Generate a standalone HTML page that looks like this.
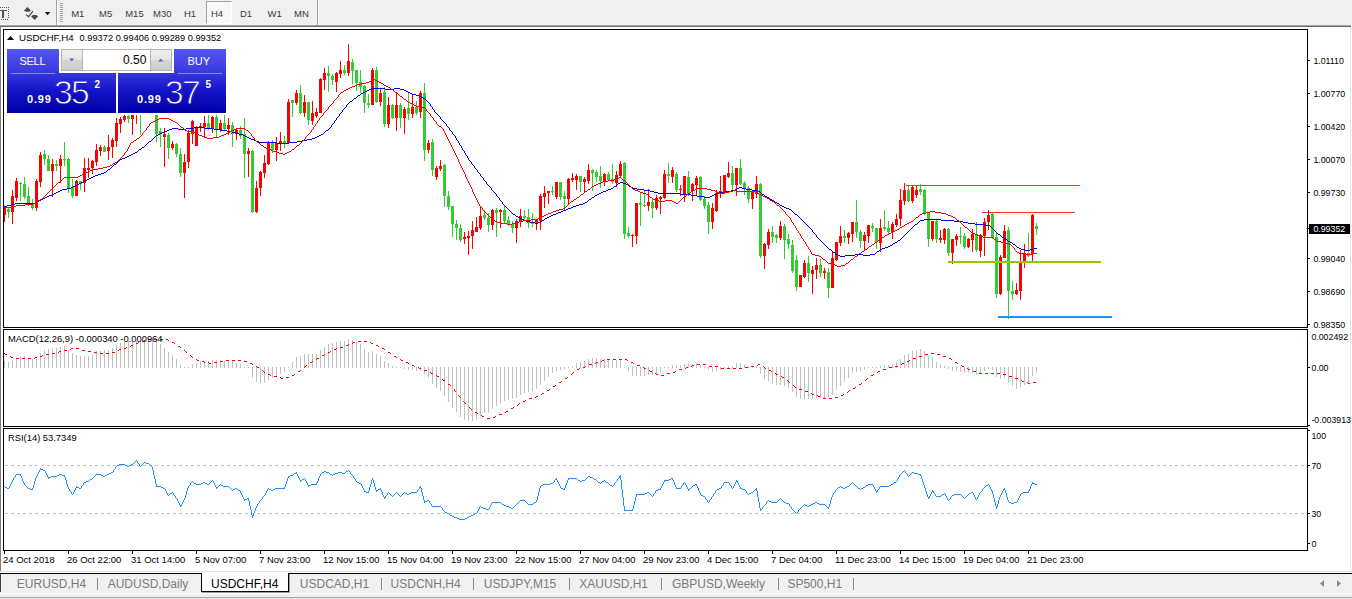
<!DOCTYPE html>
<html lang="en"><head><meta charset="utf-8"><title>USDCHF,H4</title>
<style>
html,body{margin:0;padding:0}
body{width:1352px;height:599px;position:relative;overflow:hidden;background:#fff;font-family:"Liberation Sans",sans-serif;}
.abs{position:absolute}
#toolbar{left:0;top:0;width:1352px;height:25px;background:#f0f0f0}
#tbline1{left:0;top:25px;width:1351px;height:1px;background:#a8a8a8}
#tbline2{left:0;top:26px;width:1351px;height:1px;background:#696969}
.tf{position:absolute;top:8px;font-size:9.5px;line-height:11px;color:#3a3a3a;white-space:nowrap}
#h4btn{left:206px;top:1px;width:24px;height:21px;background:#f8f8f8;border-left:1px solid #a0a0a0;border-top:1px solid #a0a0a0;border-right:1px solid #fff;border-bottom:1px solid #fff;box-sizing:content-box}
.sep{position:absolute;top:0;width:1px;height:25px;background:#a0a0a0}
.sepw{position:absolute;top:0;width:1px;height:25px;background:#fff}
#leftedge{left:0;top:27px;width:1px;height:544px;background:#808080}
#rightedge{left:1350px;top:27px;width:1px;height:544px;background:#e3e3e3}
#chart{left:0;top:0}
/* trade panel */
.blue{background:linear-gradient(#5555f2 0%, #3a3ae0 35%, #1414c8 65%, #0000a8 100%);background-size:100% 64px;background-repeat:no-repeat}
#selltab{left:7px;top:49px;width:52px;height:24px;background-position:0 0}
#sellbox{left:7px;top:73px;width:109px;height:40px;background-position:0 -24px}
#buytab{left:174px;top:49px;width:52px;height:24px;background-position:0 0}
#buybox{left:118px;top:73px;width:108px;height:40px;background-position:0 -24px}
#spinbg{left:59px;top:49px;width:115px;height:24px;background:#fff}
#spin{left:61px;top:49px;width:111px;height:22px;border:1px solid #b4b4b4;background:#fff;box-sizing:border-box}
.sbtn{position:absolute;top:50px;width:19px;height:20px;background:linear-gradient(#f0f0f0 0%,#e4e4e4 48%,#d6d6d6 52%,#cdcdcd 100%);border:0}
.pt{position:absolute;color:#fff;white-space:nowrap}
/* tabs */
#tabline0{left:0;top:571px;width:1352px;height:1px;background:#e3e3e3}
#tabline{left:0;top:573px;width:1352px;height:1px;background:#000}
#tabbar{left:0;top:574px;width:1352px;height:19px;background:#f0f0f0}
#tabl{left:0;top:574px;width:1px;height:18px;background:#404040}
#botline{left:0;top:594px;width:1352px;height:3px;background:#f0f0f0}
#botline2{left:0;top:597px;width:1352px;height:1px;background:#a6a6a6}
#botline3{left:0;top:598px;width:1352px;height:1px;background:#e6e6e6}
.tab{position:absolute;top:577px;font-size:12px;line-height:14px;color:#7b7b7b;white-space:nowrap}
.tsep{position:absolute;top:578px;width:1px;height:12px;background:#8a8a8a}
#acttab{left:201px;top:573px;width:86px;height:18px;background:#fff;border:1px solid #000;border-top:0;box-shadow:1px 1px 0 #9a9a9a}
</style></head><body>
<div class="abs" id="toolbar">
  <svg class="abs" style="left:0;top:0" width="70" height="25" viewBox="0 0 70 25">
    <g shape-rendering="crispEdges">
    <path d="M0 10h7v1h-3v7h-2v-7h-2z" fill="#555"/>
    <path d="M0 7h1v1h-1zM2 7h1v1h-1zM4 7h1v1h-1zM6 7h1v1h-1zM8 7h1v1h-1zM8 9h1v1h-1zM8 11h1v1h-1zM8 13h1v1h-1zM8 15h1v1h-1zM8 17h1v1h-1zM1 19h1v1h-1zM3 19h1v1h-1zM5 19h1v1h-1zM7 19h1v1h-1z" fill="#555"/>
    </g>
    <path d="M24 10.4L27.4 6.9L30.9 10.4L29.3 11.8H25.7z" fill="#4a4a4a"/>
    <path d="M31.1 16.4L34.6 20L38.1 16.4L36.3 15.1H32.9z" fill="#4a4a4a"/>
    <path d="M26.1 14.6L28.6 16.7L32.9 11.2" stroke="#444" stroke-width="1.2" fill="none"/>
    <path d="M44.9 11.9h5.3l-2.650 3.4z" fill="#111"/>
    <g shape-rendering="crispEdges" fill="#a0a0a0">
      <rect x="60" y="3" width="3" height="1"/><rect x="60" y="5" width="3" height="1"/><rect x="60" y="7" width="3" height="1"/><rect x="60" y="9" width="3" height="1"/><rect x="60" y="11" width="3" height="1"/><rect x="60" y="13" width="3" height="1"/><rect x="60" y="15" width="3" height="1"/><rect x="60" y="17" width="3" height="1"/><rect x="60" y="19" width="3" height="1"/><rect x="60" y="21" width="3" height="1"/>
    </g>
  </svg>
  <div class="sep" style="left:56px"></div><div class="sepw" style="left:57px"></div>
  <div class="abs" id="h4btn"></div>
  <span class="tf" style="left:71.2px">M1</span>
  <span class="tf" style="left:99.1px">M5</span>
  <span class="tf" style="left:125.2px">M15</span>
  <span class="tf" style="left:153px">M30</span>
  <span class="tf" style="left:184px">H1</span>
  <span class="tf" style="left:211px">H4</span>
  <span class="tf" style="left:239.9px">D1</span>
  <span class="tf" style="left:267.6px">W1</span>
  <span class="tf" style="left:294px">MN</span>
  <div class="sep" style="left:317px"></div><div class="sepw" style="left:318px"></div>
</div>
<div class="abs" id="tbline1"></div><div class="abs" id="tbline2"></div>
<div class="abs" id="leftedge"></div><div class="abs" id="rightedge"></div>
<svg class="abs" id="chart" width="1352" height="599" viewBox="0 0 1352 599">
<defs><clipPath id="cm"><rect x="4" y="30" width="1303" height="297"/></clipPath><clipPath id="cd"><rect x="4" y="330" width="1303" height="96"/></clipPath><clipPath id="cr"><rect x="4" y="429" width="1303" height="121"/></clipPath></defs>
<g clip-path="url(#cm)" shape-rendering="crispEdges">
<path fill="#ff0000" d="M4 207h1v15h-1zM3 208h3v7h-3zM12 190h1v34h-1zM11 196h3v16h-3zM16 178h1v23h-1zM15 181h3v17h-3zM36 179h1v32h-1zM35 181h3v27h-3zM40 152h1v35h-1zM39 155h3v27h-3zM52 159h1v38h-1zM51 164h3v7h-3zM60 155h1v28h-1zM59 159h3v7h-3zM76 180h1v16h-1zM75 181h3v15h-3zM84 158h1v34h-1zM83 168h3v15h-3zM88 158h1v20h-1zM87 168h3v2h-3zM92 160h1v14h-1zM91 161h3v7h-3zM96 144h1v22h-1zM95 150h3v12h-3zM100 145h1v11h-1zM99 147h3v4h-3zM108 135h1v25h-1zM107 147h3v4h-3zM112 138h1v20h-1zM111 140h3v7h-3zM116 118h1v29h-1zM115 123h3v18h-3zM120 117h1v16h-1zM119 119h3v5h-3zM124 112h1v10h-1zM123 116h3v4h-3zM132 110h1v25h-1zM131 113h3v6h-3zM136 106h1v18h-1zM135 107h3v4h-3zM164 128h1v39h-1zM163 134h3v3h-3zM172 141h1v9h-1zM171 144h3v4h-3zM184 154h1v44h-1zM183 162h3v11h-3zM188 130h1v38h-1zM187 133h3v29h-3zM192 120h1v24h-1zM191 121h3v13h-3zM196 126h1v20h-1zM195 127h3v19h-3zM200 123h1v9h-1zM199 126h3v2h-3zM204 116h1v21h-1zM203 123h3v4h-3zM212 116h1v17h-1zM211 117h3v11h-3zM220 120h1v12h-1zM219 123h3v7h-3zM228 118h1v17h-1zM227 125h3v4h-3zM236 129h1v11h-1zM235 130h3v4h-3zM248 148h1v29h-1zM247 151h3v3h-3zM256 181h1v32h-1zM255 188h3v24h-3zM260 171h1v25h-1zM259 172h3v16h-3zM264 155h1v23h-1zM263 163h3v10h-3zM268 141h1v24h-1zM267 142h3v22h-3zM276 137h1v24h-1zM275 143h3v7h-3zM280 132h1v19h-1zM279 141h3v2h-3zM288 99h1v45h-1zM287 102h3v41h-3zM296 90h1v15h-1zM295 93h3v10h-3zM304 95h1v22h-1zM303 102h3v11h-3zM312 101h1v24h-1zM311 113h3v8h-3zM316 108h1v10h-1zM315 112h3v4h-3zM320 78h1v35h-1zM319 79h3v34h-3zM324 68h1v22h-1zM323 73h3v7h-3zM336 72h1v20h-1zM335 73h3v9h-3zM340 61h1v17h-1zM339 70h3v4h-3zM348 44h1v32h-1zM347 61h3v12h-3zM372 68h1v37h-1zM371 70h3v35h-3zM380 88h1v18h-1zM379 93h3v9h-3zM388 97h1v31h-1zM387 105h3v19h-3zM396 93h1v38h-1zM395 105h3v13h-3zM404 107h1v27h-1zM403 109h3v9h-3zM412 95h1v23h-1zM411 107h3v7h-3zM420 91h1v27h-1zM419 93h3v19h-3zM428 140h1v13h-1zM427 143h3v7h-3zM436 166h1v14h-1zM435 168h3v9h-3zM440 160h1v11h-1zM439 166h3v3h-3zM464 232h1v12h-1zM463 237h3v2h-3zM468 231h1v24h-1zM467 236h3v2h-3zM472 221h1v28h-1zM471 230h3v6h-3zM476 217h1v15h-1zM475 227h3v5h-3zM480 206h1v24h-1zM479 216h3v12h-3zM492 209h1v21h-1zM491 210h3v15h-3zM500 209h1v19h-1zM499 210h3v2h-3zM516 219h1v24h-1zM515 221h3v7h-3zM520 209h1v18h-1zM519 216h3v5h-3zM536 219h1v11h-1zM535 220h3v4h-3zM540 194h1v36h-1zM539 196h3v25h-3zM544 186h1v22h-1zM543 193h3v4h-3zM548 191h1v13h-1zM547 191h3v2h-3zM556 182h1v17h-1zM555 182h3v15h-3zM568 178h1v26h-1zM567 179h3v20h-3zM572 173h1v9h-1zM571 178h3v2h-3zM576 174h1v16h-1zM575 176h3v4h-3zM584 177h1v16h-1zM583 179h3v3h-3zM588 164h1v20h-1zM587 170h3v11h-3zM604 173h1v13h-1zM603 174h3v8h-3zM616 171h1v16h-1zM615 175h3v8h-3zM620 161h1v16h-1zM619 164h3v12h-3zM632 234h1v13h-1zM631 235h3v1h-3zM636 203h1v41h-1zM635 203h3v33h-3zM648 189h1v22h-1zM647 202h3v4h-3zM656 195h1v15h-1zM655 198h3v10h-3zM660 196h1v18h-1zM659 197h3v2h-3zM664 170h1v29h-1zM663 174h3v24h-3zM672 167h1v16h-1zM671 170h3v7h-3zM680 185h1v11h-1zM679 189h3v1h-3zM684 176h1v26h-1zM683 176h3v18h-3zM692 183h1v18h-1zM691 184h3v7h-3zM696 176h1v20h-1zM695 178h3v7h-3zM712 203h1v26h-1zM711 208h3v14h-3zM716 190h1v22h-1zM715 193h3v18h-3zM720 176h1v22h-1zM719 191h3v3h-3zM724 175h1v19h-1zM723 175h3v18h-3zM728 162h1v16h-1zM727 173h3v4h-3zM736 168h1v28h-1zM735 168h3v17h-3zM752 190h1v19h-1zM751 192h3v7h-3zM756 176h1v22h-1zM755 184h3v10h-3zM764 243h1v26h-1zM763 244h3v12h-3zM768 229h1v20h-1zM767 232h3v13h-3zM780 221h1v19h-1zM779 226h3v12h-3zM800 275h1v12h-1zM799 275h3v12h-3zM804 260h1v18h-1zM803 263h3v14h-3zM812 266h1v28h-1zM811 270h3v4h-3zM816 258h1v21h-1zM815 265h3v5h-3zM824 268h1v11h-1zM823 271h3v2h-3zM832 252h1v36h-1zM831 258h3v30h-3zM836 242h1v19h-1zM835 242h3v18h-3zM840 226h1v20h-1zM839 236h3v7h-3zM848 232h1v12h-1zM847 233h3v5h-3zM852 222h1v20h-1zM851 222h3v12h-3zM864 232h1v18h-1zM863 235h3v6h-3zM868 225h1v18h-1zM867 225h3v11h-3zM880 219h1v33h-1zM879 228h3v15h-3zM892 222h1v17h-1zM891 224h3v8h-3zM896 214h1v13h-1zM895 219h3v6h-3zM900 189h1v37h-1zM899 200h3v19h-3zM904 183h1v22h-1zM903 190h3v11h-3zM912 186h1v17h-1zM911 187h3v14h-3zM916 186h1v12h-1zM915 190h3v5h-3zM932 221h1v20h-1zM931 221h3v18h-3zM940 230h1v13h-1zM939 238h3v2h-3zM944 228h1v16h-1zM943 229h3v11h-3zM952 239h1v25h-1zM951 239h3v14h-3zM956 234h1v12h-1zM955 236h3v4h-3zM968 238h1v10h-1zM967 239h3v8h-3zM972 229h1v23h-1zM971 234h3v6h-3zM980 234h1v23h-1zM979 235h3v16h-3zM984 218h1v38h-1zM983 222h3v14h-3zM988 210h1v20h-1zM987 215h3v7h-3zM1000 255h1v40h-1zM999 257h3v37h-3zM1004 225h1v33h-1zM1003 231h3v27h-3zM1016 283h1v12h-1zM1015 290h3v4h-3zM1020 250h1v50h-1zM1019 263h3v28h-3zM1024 244h1v24h-1zM1023 253h3v10h-3zM1032 214h1v47h-1zM1031 215h3v39h-3z"/>
<path fill="#32cd32" d="M8 208h1v10h-1zM7 209h3v3h-3zM20 182h1v19h-1zM19 183h3v1h-3zM24 177h1v22h-1zM23 184h3v13h-3zM28 187h1v19h-1zM27 196h3v8h-3zM32 199h1v11h-1zM31 204h3v4h-3zM44 150h1v15h-1zM43 154h3v5h-3zM48 155h1v16h-1zM47 159h3v12h-3zM56 160h1v11h-1zM55 164h3v2h-3zM64 142h1v24h-1zM63 159h3v1h-3zM68 158h1v35h-1zM67 159h3v29h-3zM72 179h1v19h-1zM71 187h3v9h-3zM80 181h1v9h-1zM79 181h3v3h-3zM104 145h1v7h-1zM103 147h3v5h-3zM128 112h1v11h-1zM127 116h3v3h-3zM140 108h1v27h-1zM139 110h3v4h-3zM156 105h1v37h-1zM155 108h3v26h-3zM160 128h1v19h-1zM159 131h3v3h-3zM168 133h1v26h-1zM167 135h3v13h-3zM176 143h1v14h-1zM175 144h3v10h-3zM180 148h1v29h-1zM179 154h3v19h-3zM208 112h1v18h-1zM207 123h3v5h-3zM216 112h1v26h-1zM215 117h3v13h-3zM224 112h1v18h-1zM223 123h3v6h-3zM232 122h1v25h-1zM231 125h3v9h-3zM240 126h1v13h-1zM239 130h3v6h-3zM244 118h1v60h-1zM243 134h3v20h-3zM252 150h1v63h-1zM251 151h3v61h-3zM272 140h1v13h-1zM271 142h3v8h-3zM284 136h1v12h-1zM283 141h3v2h-3zM292 100h1v17h-1zM291 100h3v3h-3zM300 85h1v29h-1zM299 93h3v20h-3zM308 102h1v23h-1zM307 102h3v18h-3zM328 66h1v26h-1zM327 73h3v3h-3zM332 74h1v11h-1zM331 76h3v4h-3zM344 65h1v10h-1zM343 70h3v3h-3zM352 59h1v25h-1zM351 62h3v9h-3zM356 70h1v21h-1zM355 70h3v13h-3zM360 70h1v23h-1zM359 82h3v5h-3zM364 85h1v28h-1zM363 86h3v17h-3zM368 94h1v14h-1zM367 103h3v2h-3zM376 67h1v36h-1zM375 70h3v32h-3zM384 87h1v40h-1zM383 92h3v32h-3zM392 104h1v15h-1zM391 105h3v13h-3zM400 103h1v25h-1zM399 105h3v13h-3zM408 92h1v28h-1zM407 108h3v6h-3zM416 101h1v14h-1zM415 107h3v6h-3zM424 83h1v78h-1zM423 93h3v57h-3zM432 139h1v37h-1zM431 142h3v28h-3zM444 164h1v43h-1zM443 165h3v31h-3zM448 191h1v19h-1zM447 196h3v11h-3zM452 206h1v31h-1zM451 206h3v18h-3zM456 220h1v20h-1zM455 224h3v4h-3zM460 224h1v18h-1zM459 228h3v12h-3zM484 210h1v10h-1zM483 215h3v3h-3zM488 213h1v19h-1zM487 218h3v7h-3zM496 208h1v29h-1zM495 210h3v3h-3zM504 206h1v18h-1zM503 210h3v11h-3zM508 216h1v10h-1zM507 220h3v5h-3zM512 221h1v12h-1zM511 224h3v4h-3zM524 210h1v11h-1zM523 216h3v2h-3zM528 209h1v19h-1zM527 217h3v6h-3zM532 213h1v14h-1zM531 223h3v1h-3zM552 186h1v9h-1zM551 191h3v1h-3zM560 182h1v18h-1zM559 182h3v15h-3zM564 191h1v19h-1zM563 196h3v3h-3zM580 176h1v16h-1zM579 176h3v6h-3zM592 169h1v22h-1zM591 170h3v3h-3zM596 170h1v12h-1zM595 172h3v5h-3zM600 166h1v22h-1zM599 176h3v5h-3zM608 172h1v9h-1zM607 174h3v6h-3zM612 164h1v20h-1zM611 179h3v3h-3zM624 162h1v77h-1zM623 163h3v71h-3zM628 227h1v11h-1zM627 233h3v3h-3zM640 193h1v33h-1zM639 203h3v2h-3zM644 191h1v16h-1zM643 205h3v1h-3zM652 199h1v19h-1zM651 202h3v6h-3zM668 163h1v20h-1zM667 174h3v2h-3zM676 172h1v20h-1zM675 174h3v16h-3zM688 171h1v25h-1zM687 177h3v17h-3zM700 176h1v25h-1zM699 177h3v23h-3zM704 196h1v13h-1zM703 199h3v7h-3zM708 202h1v32h-1zM707 205h3v17h-3zM732 166h1v24h-1zM731 173h3v12h-3zM740 159h1v26h-1zM739 168h3v16h-3zM744 181h1v14h-1zM743 183h3v5h-3zM748 186h1v17h-1zM747 188h3v11h-3zM760 183h1v75h-1zM759 184h3v72h-3zM772 226h1v17h-1zM771 232h3v5h-3zM776 234h1v9h-1zM775 235h3v3h-3zM784 224h1v35h-1zM783 226h3v14h-3zM788 234h1v15h-1zM787 239h3v5h-3zM792 240h1v33h-1zM791 245h3v26h-3zM796 255h1v36h-1zM795 260h3v27h-3zM808 256h1v26h-1zM807 263h3v10h-3zM820 259h1v18h-1zM819 265h3v8h-3zM828 268h1v30h-1zM827 272h3v16h-3zM844 230h1v13h-1zM843 236h3v2h-3zM856 200h1v38h-1zM855 222h3v10h-3zM860 230h1v18h-1zM859 232h3v9h-3zM872 223h1v9h-1zM871 226h3v2h-3zM876 228h1v21h-1zM875 228h3v14h-3zM884 210h1v21h-1zM883 227h3v2h-3zM888 221h1v14h-1zM887 228h3v4h-3zM908 186h1v16h-1zM907 190h3v11h-3zM920 184h1v11h-1zM919 189h3v3h-3zM924 189h1v26h-1zM923 190h3v23h-3zM928 212h1v35h-1zM927 212h3v27h-3zM936 219h1v24h-1zM935 221h3v18h-3zM948 228h1v28h-1zM947 229h3v24h-3zM960 227h1v17h-1zM959 236h3v1h-3zM964 233h1v16h-1zM963 236h3v11h-3zM976 222h1v30h-1zM975 234h3v16h-3zM992 213h1v26h-1zM991 214h3v24h-3zM996 233h1v65h-1zM995 237h3v57h-3zM1008 227h1v92h-1zM1007 230h3v61h-3zM1012 281h1v19h-1zM1011 291h3v3h-3zM1028 233h1v24h-1zM1027 253h3v3h-3zM1036 223h1v12h-1zM1035 226h3v3h-3z"/>
</g>
<g shape-rendering="crispEdges">
<rect x="906" y="185" width="174" height="1" fill="#ff3333"/>
<rect x="982" y="212" width="93" height="1" fill="#ff3333"/>
<rect x="948" y="261" width="153" height="2" fill="#92c800"/>
<rect x="998" y="316" width="114" height="2" fill="#1e90ff"/>
</g>
<g clip-path="url(#cm)" shape-rendering="crispEdges">
<path fill="#0000e6" d="M4 206h3v1h-3zM7 205h4v1h-4zM11 204h4v1h-4zM15 203h20v1h-20zM35 202h2v1h-2zM37 201h2v1h-2zM39 200h2v1h-2zM41 199h2v1h-2zM43 198h2v1h-2zM45 197h2v1h-2zM47 196h2v1h-2zM49 195h3v1h-3zM52 194h2v1h-2zM54 193h2v1h-2zM56 192h2v1h-2zM58 191h2v1h-2zM60 190h2v1h-2zM62 189h5v1h-5zM67 188h4v1h-4zM71 187h2v1h-2zM73 186h2v1h-2zM75 185h2v1h-2zM77 184h2v1h-2zM79 183h2v1h-2zM81 182h2v1h-2zM83 181h2v1h-2zM85 180h2v1h-2zM87 179h2v1h-2zM89 178h2v1h-2zM91 177h2v1h-2zM93 176h2v1h-2zM95 175h3v1h-3zM98 174h3v1h-3zM101 173h3v1h-3zM104 172h2v1h-2zM106 171h1v1h-1zM107 170h1v1h-1zM108 169h2v1h-2zM110 168h1v1h-1zM111 167h1v1h-1zM112 166h1v1h-1zM113 165h1v1h-1zM114 164h2v1h-2zM116 163h1v1h-1zM117 162h1v1h-1zM118 161h1v1h-1zM119 160h1v1h-1zM120 159h2v1h-2zM122 158h3v1h-3zM125 157h2v1h-2zM127 156h2v1h-2zM129 155h2v1h-2zM131 154h2v1h-2zM133 153h2v1h-2zM135 152h2v1h-2zM137 151h1v1h-1zM138 150h1v1h-1zM139 149h2v1h-2zM141 148h1v1h-1zM142 147h2v1h-2zM144 146h1v1h-1zM145 145h1v1h-1zM146 144h1v1h-1zM147 143h1v1h-1zM148 142h1v1h-1zM149 141h2v1h-2zM151 140h1v1h-1zM152 139h1v1h-1zM153 138h1v1h-1zM154 137h1v1h-1zM155 136h1v1h-1zM156 135h2v1h-2zM158 134h2v1h-2zM160 133h2v1h-2zM162 132h2v1h-2zM164 131h3v1h-3zM167 130h2v1h-2zM169 129h3v1h-3zM172 128h6v1h-6zM178 129h8v1h-8zM186 128h8v1h-8zM194 127h10v1h-10zM204 128h10v1h-10zM214 129h7v1h-7zM221 130h6v1h-6zM227 131h5v1h-5zM232 132h4v1h-4zM236 133h3v1h-3zM239 134h4v1h-4zM243 135h2v1h-2zM245 136h2v1h-2zM247 137h2v1h-2zM249 138h2v1h-2zM251 139h3v1h-3zM254 140h2v1h-2zM256 141h3v1h-3zM259 142h18v1h-18zM277 143h12v1h-12zM289 142h8v1h-8zM297 141h5v1h-5zM302 140h5v1h-5zM307 139h5v1h-5zM312 138h3v1h-3zM315 137h2v1h-2zM317 136h2v1h-2zM319 135h2v1h-2zM321 134h2v1h-2zM323 133h1v1h-1zM324 132h1v1h-1zM325 131h1v1h-1zM326 130h2v1h-2zM328 129h1v1h-1zM329 128h1v1h-1zM330 127h1v1h-1zM331 125h1v2h-1zM332 124h1v1h-1zM333 123h1v1h-1zM334 121h1v2h-1zM335 120h1v1h-1zM336 118h1v2h-1zM337 117h1v1h-1zM338 116h1v1h-1zM339 114h1v2h-1zM340 113h1v1h-1zM341 112h1v1h-1zM342 110h1v2h-1zM343 109h1v1h-1zM344 108h1v1h-1zM345 107h1v1h-1zM346 105h1v2h-1zM347 104h1v1h-1zM348 103h1v1h-1zM349 102h1v1h-1zM350 101h2v1h-2zM352 100h1v1h-1zM353 99h1v1h-1zM354 98h2v1h-2zM356 97h1v1h-1zM357 96h1v1h-1zM358 95h2v1h-2zM360 94h1v1h-1zM361 93h2v1h-2zM363 92h2v1h-2zM365 91h2v1h-2zM367 90h2v1h-2zM369 89h2v1h-2zM371 88h14v1h-14zM385 89h9v1h-9zM394 88h6v1h-6zM400 89h4v1h-4zM404 90h2v1h-2zM406 91h2v1h-2zM408 92h2v1h-2zM410 93h2v1h-2zM412 94h4v1h-4zM416 95h3v1h-3zM419 96h2v1h-2zM421 97h2v1h-2zM423 98h2v1h-2zM425 99h1v1h-1zM426 100h1v1h-1zM427 101h1v1h-1zM428 102h1v1h-1zM429 103h1v1h-1zM430 104h1v2h-1zM431 106h1v1h-1zM432 107h1v2h-1zM433 109h1v1h-1zM434 110h1v2h-1zM435 112h1v1h-1zM436 113h1v1h-1zM437 114h1v1h-1zM438 115h1v1h-1zM439 116h1v1h-1zM440 117h1v2h-1zM441 119h1v1h-1zM442 120h1v1h-1zM443 121h1v1h-1zM444 122h1v1h-1zM445 123h1v1h-1zM446 124h1v2h-1zM447 126h1v1h-1zM448 127h1v1h-1zM449 128h1v2h-1zM450 130h1v1h-1zM451 131h1v1h-1zM452 132h1v2h-1zM453 134h1v1h-1zM454 135h1v1h-1zM455 136h1v2h-1zM456 138h1v2h-1zM457 140h1v1h-1zM458 141h1v2h-1zM459 143h1v2h-1zM460 145h1v1h-1zM461 146h1v2h-1zM462 148h1v2h-1zM463 150h1v1h-1zM464 151h1v2h-1zM465 153h1v2h-1zM466 155h1v1h-1zM467 156h1v2h-1zM468 158h1v2h-1zM469 160h1v1h-1zM470 161h1v1h-1zM471 162h1v2h-1zM472 164h1v1h-1zM473 165h1v1h-1zM474 166h1v2h-1zM475 168h1v1h-1zM476 169h1v1h-1zM477 170h1v2h-1zM478 172h1v1h-1zM479 173h1v1h-1zM480 174h1v2h-1zM481 176h1v1h-1zM482 177h1v1h-1zM483 178h1v2h-1zM484 180h1v1h-1zM485 181h1v1h-1zM486 182h1v2h-1zM487 184h1v1h-1zM488 185h1v1h-1zM489 186h1v1h-1zM490 187h1v1h-1zM491 188h1v2h-1zM492 190h1v1h-1zM493 191h1v1h-1zM494 192h1v1h-1zM495 193h1v1h-1zM496 194h1v2h-1zM497 196h1v1h-1zM498 197h1v1h-1zM499 198h1v2h-1zM500 200h1v1h-1zM501 201h1v1h-1zM502 202h1v2h-1zM503 204h1v1h-1zM504 205h1v1h-1zM505 206h1v1h-1zM506 207h1v1h-1zM507 208h1v1h-1zM508 209h1v1h-1zM509 210h1v1h-1zM510 211h1v1h-1zM511 212h1v1h-1zM512 213h1v1h-1zM513 214h2v1h-2zM515 215h1v1h-1zM516 216h2v1h-2zM518 217h2v1h-2zM520 218h2v1h-2zM522 219h2v1h-2zM524 220h2v1h-2zM526 221h4v1h-4zM530 222h5v1h-5zM535 223h3v1h-3zM538 222h2v1h-2zM540 221h2v1h-2zM542 220h2v1h-2zM544 219h1v1h-1zM545 218h2v1h-2zM547 217h2v1h-2zM549 216h2v1h-2zM551 215h2v1h-2zM553 214h3v1h-3zM556 213h2v1h-2zM558 212h3v1h-3zM561 211h2v1h-2zM563 210h3v1h-3zM566 209h2v1h-2zM568 208h3v1h-3zM571 207h2v1h-2zM573 206h3v1h-3zM576 205h3v1h-3zM579 204h4v1h-4zM583 203h2v1h-2zM585 202h2v1h-2zM587 201h1v1h-1zM588 200h1v1h-1zM589 199h2v1h-2zM591 198h1v1h-1zM592 197h2v1h-2zM594 196h1v1h-1zM595 195h2v1h-2zM597 194h2v1h-2zM599 193h2v1h-2zM601 192h2v1h-2zM603 191h3v1h-3zM606 190h2v1h-2zM608 189h3v1h-3zM611 188h2v1h-2zM613 187h1v1h-1zM614 186h2v1h-2zM616 185h1v1h-1zM617 184h1v1h-1zM618 183h2v1h-2zM620 182h3v1h-3zM623 183h3v1h-3zM626 184h2v1h-2zM628 185h1v1h-1zM629 186h2v1h-2zM631 187h2v1h-2zM633 188h4v1h-4zM637 189h7v1h-7zM644 190h6v1h-6zM650 191h4v1h-4zM654 192h4v1h-4zM658 193h22v1h-22zM680 194h11v1h-11zM691 195h6v1h-6zM697 196h7v1h-7zM704 197h6v1h-6zM710 196h2v1h-2zM712 195h2v1h-2zM714 194h2v1h-2zM716 193h4v1h-4zM720 192h5v1h-5zM725 191h6v1h-6zM731 190h4v1h-4zM735 189h2v1h-2zM737 188h2v1h-2zM739 187h3v1h-3zM742 188h4v1h-4zM746 189h6v1h-6zM752 190h6v1h-6zM758 191h2v1h-2zM760 192h1v1h-1zM761 193h1v1h-1zM762 194h2v1h-2zM764 195h1v1h-1zM765 196h2v1h-2zM767 197h2v1h-2zM769 198h1v1h-1zM770 199h2v1h-2zM772 200h2v1h-2zM774 201h1v1h-1zM775 202h2v1h-2zM777 203h2v1h-2zM779 204h1v1h-1zM780 205h2v1h-2zM782 206h2v1h-2zM784 207h2v1h-2zM786 208h3v1h-3zM789 209h2v1h-2zM791 210h1v1h-1zM792 211h1v1h-1zM793 212h1v1h-1zM794 213h1v1h-1zM795 214h2v1h-2zM797 215h1v1h-1zM798 216h1v1h-1zM799 217h1v1h-1zM800 218h1v1h-1zM801 219h1v1h-1zM802 220h1v1h-1zM803 221h1v1h-1zM804 222h1v1h-1zM805 223h1v1h-1zM806 224h1v1h-1zM807 225h1v1h-1zM808 226h1v1h-1zM809 227h1v1h-1zM810 228h1v1h-1zM811 229h1v1h-1zM812 230h1v2h-1zM813 232h1v1h-1zM814 233h1v1h-1zM815 234h1v1h-1zM816 235h1v2h-1zM817 237h1v1h-1zM818 238h1v1h-1zM819 239h1v1h-1zM820 240h1v1h-1zM821 241h1v1h-1zM822 242h1v1h-1zM823 243h1v1h-1zM824 244h1v1h-1zM825 245h1v1h-1zM826 246h1v1h-1zM827 247h1v1h-1zM828 248h1v1h-1zM829 249h2v1h-2zM831 250h1v1h-1zM832 251h1v1h-1zM833 252h2v1h-2zM835 253h1v1h-1zM836 254h2v1h-2zM838 255h2v1h-2zM840 256h5v1h-5zM845 255h10v1h-10zM855 254h8v1h-8zM863 255h7v1h-7zM870 254h5v1h-5zM875 253h1v1h-1zM876 252h1v1h-1zM877 251h2v1h-2zM879 250h1v1h-1zM880 249h2v1h-2zM882 248h3v1h-3zM885 247h3v1h-3zM888 246h2v1h-2zM890 245h2v1h-2zM892 244h1v1h-1zM893 243h2v1h-2zM895 242h2v1h-2zM897 241h1v1h-1zM898 240h2v1h-2zM900 239h1v1h-1zM901 238h1v1h-1zM902 237h1v1h-1zM903 236h1v1h-1zM904 235h1v1h-1zM905 234h1v1h-1zM906 233h1v1h-1zM907 232h1v1h-1zM908 231h1v1h-1zM909 230h1v1h-1zM910 229h1v1h-1zM911 228h1v1h-1zM912 227h1v1h-1zM913 226h1v1h-1zM914 225h1v1h-1zM915 224h2v1h-2zM917 223h1v1h-1zM918 222h1v1h-1zM919 221h1v1h-1zM920 220h4v1h-4zM924 219h17v1h-17zM941 220h13v1h-13zM954 221h9v1h-9zM963 222h5v1h-5zM968 223h7v1h-7zM975 224h10v1h-10zM985 225h5v1h-5zM990 226h1v1h-1zM991 227h1v1h-1zM992 228h1v1h-1zM993 229h1v1h-1zM994 230h1v1h-1zM995 231h1v1h-1zM996 232h1v1h-1zM997 233h1v1h-1zM998 234h2v1h-2zM1000 235h1v1h-1zM1001 236h1v1h-1zM1002 237h2v1h-2zM1004 238h1v1h-1zM1005 239h2v1h-2zM1007 240h1v1h-1zM1008 241h2v1h-2zM1010 242h2v1h-2zM1012 243h1v1h-1zM1013 244h2v1h-2zM1015 245h1v1h-1zM1016 246h1v1h-1zM1017 247h2v1h-2zM1019 248h2v1h-2zM1021 249h4v1h-4zM1025 250h5v1h-5zM1030 249h4v1h-4zM1034 248h3v1h-3z"/>
<path fill="#ff0000" d="M4 207h8v1h-8zM12 206h4v1h-4zM16 205h9v1h-9zM25 204h8v1h-8zM33 203h2v1h-2zM35 202h2v1h-2zM37 201h1v1h-1zM38 200h2v1h-2zM40 199h2v1h-2zM42 198h1v1h-1zM43 197h1v1h-1zM44 196h1v1h-1zM45 195h1v1h-1zM46 194h1v1h-1zM47 193h1v1h-1zM48 192h1v1h-1zM49 191h1v1h-1zM50 190h1v1h-1zM51 189h1v1h-1zM52 188h1v1h-1zM53 187h1v1h-1zM54 186h1v1h-1zM55 185h1v1h-1zM56 184h1v1h-1zM57 183h1v1h-1zM58 182h2v1h-2zM60 181h1v1h-1zM61 180h1v1h-1zM62 179h1v1h-1zM63 178h1v1h-1zM64 177h14v1h-14zM78 176h2v1h-2zM80 175h2v1h-2zM82 174h2v1h-2zM84 173h2v1h-2zM86 172h2v1h-2zM88 171h2v1h-2zM90 170h3v1h-3zM93 169h5v1h-5zM98 168h5v1h-5zM103 167h4v1h-4zM107 166h3v1h-3zM110 165h2v1h-2zM112 164h1v1h-1zM113 163h2v1h-2zM115 162h2v1h-2zM117 161h1v1h-1zM118 160h1v1h-1zM119 159h1v1h-1zM120 158h1v1h-1zM121 157h1v1h-1zM122 156h1v1h-1zM123 155h1v1h-1zM124 153h1v2h-1zM125 152h1v1h-1zM126 151h1v1h-1zM127 149h1v2h-1zM128 147h1v2h-1zM129 145h1v2h-1zM130 143h1v2h-1zM131 142h2v1h-2zM133 141h1v1h-1zM134 140h2v1h-2zM136 139h1v1h-1zM137 138h2v1h-2zM139 137h1v1h-1zM140 136h1v1h-1zM141 135h1v1h-1zM142 133h1v2h-1zM143 132h1v1h-1zM144 131h1v1h-1zM145 130h1v1h-1zM146 128h1v2h-1zM147 127h1v1h-1zM148 126h1v1h-1zM149 124h1v2h-1zM150 123h1v1h-1zM151 122h2v1h-2zM153 121h2v1h-2zM155 120h2v1h-2zM157 119h2v1h-2zM159 118h10v1h-10zM169 119h2v1h-2zM171 120h2v1h-2zM173 121h2v1h-2zM175 122h2v1h-2zM177 123h1v1h-1zM178 124h1v1h-1zM179 125h1v1h-1zM180 126h1v1h-1zM181 127h2v1h-2zM183 128h1v1h-1zM184 129h1v1h-1zM185 130h2v1h-2zM187 131h4v1h-4zM191 132h4v1h-4zM195 133h2v1h-2zM197 134h2v1h-2zM199 135h3v1h-3zM202 136h2v1h-2zM204 137h3v1h-3zM207 138h6v1h-6zM213 137h6v1h-6zM219 136h2v1h-2zM221 135h3v1h-3zM224 134h2v1h-2zM226 133h2v1h-2zM228 132h2v1h-2zM230 131h2v1h-2zM232 130h2v1h-2zM234 129h2v1h-2zM236 128h9v1h-9zM245 129h1v1h-1zM246 130h2v1h-2zM248 131h1v1h-1zM249 132h1v1h-1zM250 133h1v1h-1zM251 134h1v2h-1zM252 136h1v1h-1zM253 137h1v1h-1zM254 138h1v2h-1zM255 140h1v1h-1zM256 141h1v1h-1zM257 142h2v1h-2zM259 143h1v1h-1zM260 144h1v1h-1zM261 145h2v1h-2zM263 146h1v1h-1zM264 147h2v1h-2zM266 148h2v1h-2zM268 149h3v1h-3zM271 150h2v1h-2zM273 151h3v1h-3zM276 152h3v1h-3zM279 153h4v1h-4zM283 154h2v1h-2zM285 153h2v1h-2zM287 152h2v1h-2zM289 151h2v1h-2zM291 150h1v1h-1zM292 149h2v1h-2zM294 148h1v1h-1zM295 147h1v1h-1zM296 146h1v1h-1zM297 145h2v1h-2zM299 144h1v1h-1zM300 143h1v1h-1zM301 142h1v1h-1zM302 141h1v1h-1zM303 140h1v1h-1zM304 139h1v1h-1zM305 137h1v2h-1zM306 136h1v1h-1zM307 135h1v1h-1zM308 134h1v1h-1zM309 133h1v1h-1zM310 132h1v1h-1zM311 130h1v2h-1zM312 129h1v1h-1zM313 127h1v2h-1zM314 126h1v1h-1zM315 124h1v2h-1zM316 123h1v1h-1zM317 121h1v2h-1zM318 120h1v1h-1zM319 118h1v2h-1zM320 117h1v1h-1zM321 116h1v1h-1zM322 115h1v1h-1zM323 113h1v2h-1zM324 112h1v1h-1zM325 111h1v1h-1zM326 110h1v1h-1zM327 109h1v1h-1zM328 107h1v2h-1zM329 106h1v1h-1zM330 105h1v1h-1zM331 104h1v1h-1zM332 103h1v1h-1zM333 101h1v2h-1zM334 100h1v1h-1zM335 99h1v1h-1zM336 98h1v1h-1zM337 97h1v1h-1zM338 95h1v2h-1zM339 94h1v1h-1zM340 93h1v1h-1zM341 92h2v1h-2zM343 91h1v1h-1zM344 90h2v1h-2zM346 89h2v1h-2zM348 88h2v1h-2zM350 87h2v1h-2zM352 86h3v1h-3zM355 85h2v1h-2zM357 84h4v1h-4zM361 83h5v1h-5zM366 82h3v1h-3zM369 81h2v1h-2zM371 80h2v1h-2zM373 79h2v1h-2zM375 80h2v1h-2zM377 81h2v1h-2zM379 82h2v1h-2zM381 83h2v1h-2zM383 84h1v1h-1zM384 85h2v1h-2zM386 86h2v1h-2zM388 87h2v1h-2zM390 88h1v1h-1zM391 89h2v1h-2zM393 90h1v1h-1zM394 91h1v1h-1zM395 92h2v1h-2zM397 93h1v1h-1zM398 94h1v1h-1zM399 95h1v1h-1zM400 96h2v1h-2zM402 97h1v1h-1zM403 98h1v1h-1zM404 99h2v1h-2zM406 100h1v1h-1zM407 101h1v1h-1zM408 102h2v1h-2zM410 103h2v1h-2zM412 104h2v1h-2zM414 105h2v1h-2zM416 106h5v1h-5zM421 107h4v1h-4zM425 108h1v1h-1zM426 109h1v2h-1zM427 111h1v1h-1zM428 112h1v1h-1zM429 113h1v1h-1zM430 114h1v2h-1zM431 116h1v1h-1zM432 117h1v1h-1zM433 118h1v2h-1zM434 120h1v1h-1zM435 121h1v1h-1zM436 122h1v2h-1zM437 124h1v1h-1zM438 125h1v1h-1zM439 126h2v1h-2zM441 127h1v1h-1zM442 128h1v1h-1zM443 129h1v2h-1zM444 131h1v2h-1zM445 133h1v2h-1zM446 135h1v2h-1zM447 137h1v2h-1zM448 139h1v2h-1zM449 141h1v2h-1zM450 143h1v2h-1zM451 145h1v2h-1zM452 147h1v2h-1zM453 149h1v2h-1zM454 151h1v2h-1zM455 153h1v2h-1zM456 155h1v2h-1zM457 157h1v2h-1zM458 159h1v3h-1zM459 162h1v2h-1zM460 164h1v2h-1zM461 166h1v2h-1zM462 168h1v2h-1zM463 170h1v2h-1zM464 172h1v2h-1zM465 174h1v3h-1zM466 177h1v2h-1zM467 179h1v2h-1zM468 181h1v2h-1zM469 183h1v2h-1zM470 185h1v2h-1zM471 187h1v2h-1zM472 189h1v3h-1zM473 192h1v2h-1zM474 194h1v2h-1zM475 196h1v2h-1zM476 198h1v2h-1zM477 200h1v2h-1zM478 202h1v2h-1zM479 204h1v2h-1zM480 206h1v1h-1zM481 207h1v1h-1zM482 208h1v2h-1zM483 210h1v1h-1zM484 211h1v1h-1zM485 212h1v1h-1zM486 213h1v1h-1zM487 214h1v1h-1zM488 215h1v1h-1zM489 216h1v1h-1zM490 217h1v1h-1zM491 218h2v1h-2zM493 219h1v1h-1zM494 220h1v1h-1zM495 221h2v1h-2zM497 222h3v1h-3zM500 223h7v1h-7zM507 224h5v1h-5zM512 223h4v1h-4zM516 222h3v1h-3zM519 221h4v1h-4zM523 220h8v1h-8zM531 219h7v1h-7zM538 218h2v1h-2zM540 217h2v1h-2zM542 216h2v1h-2zM544 215h2v1h-2zM546 214h2v1h-2zM548 213h3v1h-3zM551 212h2v1h-2zM553 211h3v1h-3zM556 210h3v1h-3zM559 209h4v1h-4zM563 208h2v1h-2zM565 207h1v1h-1zM566 206h1v1h-1zM567 205h1v1h-1zM568 204h1v1h-1zM569 203h1v1h-1zM570 202h1v1h-1zM571 201h2v1h-2zM573 200h1v1h-1zM574 199h2v1h-2zM576 198h1v1h-1zM577 197h2v1h-2zM579 196h1v1h-1zM580 195h1v1h-1zM581 194h2v1h-2zM583 193h1v1h-1zM584 192h1v1h-1zM585 191h2v1h-2zM587 190h1v1h-1zM588 189h2v1h-2zM590 188h1v1h-1zM591 187h1v1h-1zM592 186h2v1h-2zM594 185h2v1h-2zM596 184h2v1h-2zM598 183h3v1h-3zM601 182h2v1h-2zM603 181h5v1h-5zM608 180h6v1h-6zM614 179h2v1h-2zM616 178h3v1h-3zM619 177h2v1h-2zM621 178h1v1h-1zM622 179h1v1h-1zM623 180h2v1h-2zM625 181h1v1h-1zM626 182h1v1h-1zM627 183h1v1h-1zM628 184h1v1h-1zM629 185h1v1h-1zM630 186h1v1h-1zM631 187h1v1h-1zM632 188h1v1h-1zM633 189h2v1h-2zM635 190h3v1h-3zM638 191h2v1h-2zM640 192h3v1h-3zM643 193h3v1h-3zM646 194h2v1h-2zM648 195h1v1h-1zM649 196h1v1h-1zM650 197h2v1h-2zM652 198h1v1h-1zM653 199h2v1h-2zM655 200h4v1h-4zM659 201h6v1h-6zM665 200h7v1h-7zM672 201h2v1h-2zM674 202h2v1h-2zM676 203h2v1h-2zM678 202h1v1h-1zM679 201h1v1h-1zM680 200h1v1h-1zM681 199h1v1h-1zM682 198h1v1h-1zM683 197h1v1h-1zM684 196h2v1h-2zM686 195h1v1h-1zM687 194h1v1h-1zM688 193h2v1h-2zM690 192h1v1h-1zM691 191h2v1h-2zM693 190h2v1h-2zM695 189h2v1h-2zM697 188h10v1h-10zM707 189h4v1h-4zM711 190h4v1h-4zM715 191h2v1h-2zM717 192h2v1h-2zM719 193h5v1h-5zM724 192h5v1h-5zM729 191h4v1h-4zM733 190h4v1h-4zM737 191h18v1h-18zM755 192h2v1h-2zM757 193h2v1h-2zM759 194h2v1h-2zM761 195h2v1h-2zM763 196h2v1h-2zM765 197h2v1h-2zM767 198h2v1h-2zM769 199h1v1h-1zM770 200h2v1h-2zM772 201h2v1h-2zM774 202h1v1h-1zM775 203h1v1h-1zM776 204h1v1h-1zM777 205h2v1h-2zM779 206h1v1h-1zM780 207h1v1h-1zM781 208h1v1h-1zM782 209h1v1h-1zM783 210h1v1h-1zM784 211h1v1h-1zM785 212h1v2h-1zM786 214h1v1h-1zM787 215h1v1h-1zM788 216h1v1h-1zM789 217h1v1h-1zM790 218h1v2h-1zM791 220h1v2h-1zM792 222h1v1h-1zM793 223h1v2h-1zM794 225h1v1h-1zM795 226h1v2h-1zM796 228h1v2h-1zM797 230h1v1h-1zM798 231h1v2h-1zM799 233h1v1h-1zM800 234h1v2h-1zM801 236h1v2h-1zM802 238h1v1h-1zM803 239h1v2h-1zM804 241h1v1h-1zM805 242h1v2h-1zM806 244h1v2h-1zM807 246h1v1h-1zM808 247h1v2h-1zM809 249h1v1h-1zM810 250h1v2h-1zM811 252h1v2h-1zM812 254h3v1h-3zM815 255h4v1h-4zM819 256h2v1h-2zM821 257h1v1h-1zM822 258h1v1h-1zM823 259h2v1h-2zM825 260h1v1h-1zM826 261h1v1h-1zM827 262h1v1h-1zM828 263h6v1h-6zM834 264h1v1h-1zM835 265h2v1h-2zM837 266h4v1h-4zM841 265h4v1h-4zM845 264h1v1h-1zM846 263h2v1h-2zM848 262h1v1h-1zM849 261h1v1h-1zM850 260h1v1h-1zM851 259h2v1h-2zM853 258h1v1h-1zM854 257h1v1h-1zM855 256h2v1h-2zM857 255h1v1h-1zM858 254h1v1h-1zM859 253h2v1h-2zM861 252h1v1h-1zM862 251h2v1h-2zM864 250h1v1h-1zM865 249h2v1h-2zM867 248h1v1h-1zM868 247h1v1h-1zM869 246h2v1h-2zM871 245h1v1h-1zM872 244h2v1h-2zM874 243h1v1h-1zM875 242h2v1h-2zM877 241h1v1h-1zM878 240h1v1h-1zM879 239h2v1h-2zM881 238h1v1h-1zM882 237h2v1h-2zM884 236h1v1h-1zM885 235h2v1h-2zM887 234h2v1h-2zM889 233h2v1h-2zM891 232h2v1h-2zM893 231h2v1h-2zM895 230h2v1h-2zM897 229h2v1h-2zM899 228h1v1h-1zM900 227h2v1h-2zM902 226h2v1h-2zM904 225h1v1h-1zM905 224h2v1h-2zM907 223h2v1h-2zM909 222h2v1h-2zM911 221h2v1h-2zM913 220h1v1h-1zM914 219h1v1h-1zM915 218h1v1h-1zM916 217h2v1h-2zM918 216h1v1h-1zM919 215h1v1h-1zM920 214h2v1h-2zM922 213h4v1h-4zM926 212h4v1h-4zM930 211h5v1h-5zM935 212h6v1h-6zM941 213h5v1h-5zM946 214h2v1h-2zM948 215h3v1h-3zM951 216h2v1h-2zM953 217h2v1h-2zM955 218h1v1h-1zM956 219h1v1h-1zM957 220h2v1h-2zM959 221h1v1h-1zM960 222h1v1h-1zM961 223h1v1h-1zM962 224h1v1h-1zM963 225h1v1h-1zM964 226h1v1h-1zM965 227h2v1h-2zM967 228h1v1h-1zM968 229h1v1h-1zM969 230h1v1h-1zM970 231h1v1h-1zM971 232h2v1h-2zM973 233h2v1h-2zM975 234h2v1h-2zM977 235h2v1h-2zM979 236h4v1h-4zM983 237h10v1h-10zM993 238h1v1h-1zM994 239h2v1h-2zM996 240h1v1h-1zM997 241h4v1h-4zM1001 242h5v1h-5zM1006 243h3v1h-3zM1009 244h2v1h-2zM1011 245h1v1h-1zM1012 246h1v1h-1zM1013 247h1v1h-1zM1014 248h1v2h-1zM1015 250h1v1h-1zM1016 251h1v1h-1zM1017 252h2v1h-2zM1019 253h4v1h-4zM1023 254h10v1h-10zM1033 253h4v1h-4z"/>
</g>
<g clip-path="url(#cd)" shape-rendering="crispEdges">
<path fill="#c0c0c0" d="M4 361h1v7h-1zM8 362h1v6h-1zM12 360h1v8h-1zM16 358h1v10h-1zM20 356h1v12h-1zM24 356h1v12h-1zM28 358h1v10h-1zM32 359h1v9h-1zM36 359h1v9h-1zM40 353h1v15h-1zM44 350h1v18h-1zM48 349h1v19h-1zM52 348h1v20h-1zM56 348h1v20h-1zM60 347h1v21h-1zM64 346h1v22h-1zM68 350h1v18h-1zM72 353h1v15h-1zM76 355h1v13h-1zM80 356h1v12h-1zM84 356h1v12h-1zM88 356h1v12h-1zM92 355h1v13h-1zM96 351h1v17h-1zM100 351h1v17h-1zM104 350h1v18h-1zM108 350h1v18h-1zM112 348h1v20h-1zM116 345h1v23h-1zM120 343h1v25h-1zM124 342h1v26h-1zM128 341h1v27h-1zM132 341h1v27h-1zM136 341h1v27h-1zM140 340h1v28h-1zM144 340h1v28h-1zM148 339h1v29h-1zM152 340h1v28h-1zM156 341h1v27h-1zM160 344h1v24h-1zM164 348h1v20h-1zM168 352h1v16h-1zM172 355h1v13h-1zM176 359h1v9h-1zM180 365h1v3h-1zM184 367h1v1h-1zM188 367h1v1h-1zM192 364h1v4h-1zM196 363h1v5h-1zM200 361h1v7h-1zM204 361h1v7h-1zM208 361h1v7h-1zM212 360h1v8h-1zM216 360h1v8h-1zM220 360h1v8h-1zM224 361h1v7h-1zM228 361h1v7h-1zM232 361h1v7h-1zM236 363h1v5h-1zM240 364h1v4h-1zM244 367h1v1h-1zM248 367h1v1h-1zM252 367h1v11h-1zM256 367h1v15h-1zM260 367h1v16h-1zM264 367h1v16h-1zM268 367h1v13h-1zM272 367h1v11h-1zM276 367h1v9h-1zM280 367h1v7h-1zM284 367h1v5h-1zM288 367h1v1h-1zM292 362h1v6h-1zM296 357h1v11h-1zM300 356h1v12h-1zM304 354h1v14h-1zM308 354h1v14h-1zM312 354h1v14h-1zM316 354h1v14h-1zM320 350h1v18h-1zM324 347h1v21h-1zM328 344h1v24h-1zM332 343h1v25h-1zM336 342h1v26h-1zM340 341h1v27h-1zM344 341h1v27h-1zM348 339h1v29h-1zM352 340h1v28h-1zM356 342h1v26h-1zM360 344h1v24h-1zM364 349h1v19h-1zM368 352h1v16h-1zM372 351h1v17h-1zM376 354h1v14h-1zM380 356h1v12h-1zM384 361h1v7h-1zM388 363h1v5h-1zM392 366h1v2h-1zM396 367h1v1h-1zM400 367h1v1h-1zM404 367h1v2h-1zM408 367h1v3h-1zM412 367h1v3h-1zM416 367h1v4h-1zM420 367h1v4h-1zM424 367h1v7h-1zM428 367h1v11h-1zM432 367h1v17h-1zM436 367h1v21h-1zM440 367h1v24h-1zM444 367h1v29h-1zM448 367h1v35h-1zM452 367h1v41h-1zM456 367h1v45h-1zM460 367h1v50h-1zM464 367h1v53h-1zM468 367h1v54h-1zM472 367h1v54h-1zM476 367h1v53h-1zM480 367h1v49h-1zM484 367h1v46h-1zM488 367h1v46h-1zM492 367h1v42h-1zM496 367h1v39h-1zM500 367h1v36h-1zM504 367h1v34h-1zM508 367h1v33h-1zM512 367h1v32h-1zM516 367h1v31h-1zM520 367h1v28h-1zM524 367h1v26h-1zM528 367h1v25h-1zM532 367h1v24h-1zM536 367h1v22h-1zM540 367h1v18h-1zM544 367h1v14h-1zM548 367h1v10h-1zM552 367h1v6h-1zM556 367h1v4h-1zM560 367h1v3h-1zM564 367h1v2h-1zM568 367h1v1h-1zM572 366h1v2h-1zM576 363h1v5h-1zM580 362h1v6h-1zM584 361h1v7h-1zM588 359h1v9h-1zM592 358h1v10h-1zM596 358h1v10h-1zM600 359h1v9h-1zM604 359h1v9h-1zM608 360h1v8h-1zM612 360h1v8h-1zM616 360h1v8h-1zM620 359h1v9h-1zM624 367h1v1h-1zM628 367h1v4h-1zM632 367h1v9h-1zM636 367h1v9h-1zM640 367h1v9h-1zM644 367h1v9h-1zM648 367h1v8h-1zM652 367h1v8h-1zM656 367h1v7h-1zM660 367h1v5h-1zM664 367h1v1h-1zM668 367h1v1h-1zM672 365h1v3h-1zM676 365h1v3h-1zM680 365h1v3h-1zM684 364h1v4h-1zM688 364h1v4h-1zM692 364h1v4h-1zM696 363h1v5h-1zM700 365h1v3h-1zM704 367h1v1h-1zM708 367h1v3h-1zM712 367h1v5h-1zM716 367h1v4h-1zM720 367h1v3h-1zM724 367h1v1h-1zM728 366h1v2h-1zM732 366h1v2h-1zM736 363h1v5h-1zM740 363h1v5h-1zM744 364h1v4h-1zM748 366h1v2h-1zM752 367h1v1h-1zM756 366h1v2h-1zM760 367h1v7h-1zM764 367h1v12h-1zM768 367h1v14h-1zM772 367h1v17h-1zM776 367h1v18h-1zM780 367h1v18h-1zM784 367h1v19h-1zM788 367h1v21h-1zM792 367h1v25h-1zM796 367h1v30h-1zM800 367h1v32h-1zM804 367h1v32h-1zM808 367h1v32h-1zM812 367h1v32h-1zM816 367h1v31h-1zM820 367h1v31h-1zM824 367h1v31h-1zM828 367h1v30h-1zM832 367h1v28h-1zM836 367h1v23h-1zM840 367h1v19h-1zM844 367h1v15h-1zM848 367h1v11h-1zM852 367h1v6h-1zM856 367h1v5h-1zM860 367h1v4h-1zM864 367h1v3h-1zM868 367h1v1h-1zM872 367h1v1h-1zM876 367h1v1h-1zM880 366h1v2h-1zM884 365h1v3h-1zM888 365h1v3h-1zM892 364h1v4h-1zM896 362h1v6h-1zM900 359h1v9h-1zM904 355h1v13h-1zM908 354h1v14h-1zM912 351h1v17h-1zM916 350h1v18h-1zM920 349h1v19h-1zM924 351h1v17h-1zM928 356h1v12h-1zM932 358h1v10h-1zM936 362h1v6h-1zM940 365h1v3h-1zM944 366h1v2h-1zM948 367h1v2h-1zM952 367h1v4h-1zM956 367h1v4h-1zM960 367h1v5h-1zM964 367h1v6h-1zM968 367h1v6h-1zM972 367h1v6h-1zM976 367h1v8h-1zM980 367h1v6h-1zM984 367h1v4h-1zM988 367h1v2h-1zM992 367h1v3h-1zM996 367h1v10h-1zM1000 367h1v12h-1zM1004 367h1v11h-1zM1008 367h1v15h-1zM1012 367h1v19h-1zM1016 367h1v22h-1zM1020 367h1v20h-1zM1024 367h1v18h-1zM1028 367h1v17h-1zM1032 367h1v9h-1zM1036 367h1v6h-1z"/>
<path fill="#ff0000" d="M4 353h1v1h-1zM5 354h2v1h-2zM10 356h1v1h-1zM11 357h2v1h-2zM16 358h3v1h-3zM22 358h3v1h-3zM28 358h3v1h-3zM34 358h1v1h-1zM35 357h2v1h-2zM40 356h2v1h-2zM42 355h1v1h-1zM46 354h3v1h-3zM52 353h3v1h-3zM58 352h1v1h-1zM59 351h2v1h-2zM64 350h3v1h-3zM70 349h1v1h-1zM71 348h2v1h-2zM76 348h3v1h-3zM82 350h3v1h-3zM88 351h3v1h-3zM94 352h3v1h-3zM100 353h3v1h-3zM106 353h3v1h-3zM112 352h3v1h-3zM118 350h1v1h-1zM119 349h2v1h-2zM124 348h2v1h-2zM126 347h1v1h-1zM130 346h1v1h-1zM131 345h2v1h-2zM136 343h2v1h-2zM138 342h1v1h-1zM142 341h2v1h-2zM144 340h1v1h-1zM148 339h3v1h-3zM154 339h3v1h-3zM160 339h3v1h-3zM166 339h2v1h-2zM168 340h1v1h-1zM172 342h2v1h-2zM174 343h1v1h-1zM178 346h2v1h-2zM180 347h1v1h-1zM184 350h1v1h-1zM185 351h1v1h-1zM186 352h1v1h-1zM190 355h1v1h-1zM191 356h1v1h-1zM192 357h1v1h-1zM196 359h1v1h-1zM197 360h2v1h-2zM202 361h2v1h-2zM204 362h1v1h-1zM208 362h1v1h-1zM209 363h2v1h-2zM214 362h3v1h-3zM220 361h3v1h-3zM226 360h3v1h-3zM232 360h3v1h-3zM238 360h3v1h-3zM244 361h3v1h-3zM250 363h2v1h-2zM252 364h1v1h-1zM256 366h1v1h-1zM257 367h2v1h-2zM262 370h1v1h-1zM263 371h1v1h-1zM264 372h1v1h-1zM268 374h2v1h-2zM270 375h1v1h-1zM274 376h3v1h-3zM280 377h1v1h-1zM281 378h2v1h-2zM286 377h3v1h-3zM292 375h2v1h-2zM294 374h1v1h-1zM298 371h2v1h-2zM300 370h1v1h-1zM304 367h1v1h-1zM305 366h1v1h-1zM306 365h1v1h-1zM310 362h2v1h-2zM312 361h1v1h-1zM316 359h1v1h-1zM317 358h2v1h-2zM322 355h2v1h-2zM324 354h1v1h-1zM328 352h2v1h-2zM330 351h1v1h-1zM334 349h2v1h-2zM336 348h1v1h-1zM340 347h3v1h-3zM346 345h2v1h-2zM348 344h1v1h-1zM352 343h1v1h-1zM353 342h2v1h-2zM358 341h3v1h-3zM364 341h3v1h-3zM370 342h1v1h-1zM371 343h2v1h-2zM376 345h2v1h-2zM378 346h1v1h-1zM382 348h2v1h-2zM384 349h1v1h-1zM388 352h2v1h-2zM390 353h1v1h-1zM394 356h2v1h-2zM396 357h1v1h-1zM400 359h1v1h-1zM401 360h2v1h-2zM406 362h2v1h-2zM408 363h1v1h-1zM412 365h2v1h-2zM414 366h1v1h-1zM418 367h1v1h-1zM419 368h2v1h-2zM424 370h3v1h-3zM430 372h1v1h-1zM431 373h2v1h-2zM436 375h1v1h-1zM437 376h2v1h-2zM442 379h1v1h-1zM443 380h2v1h-2zM448 384h2v1h-2zM450 385h1v1h-1zM454 389h1v2h-1zM455 391h1v1h-1zM458 395h1v1h-1zM459 396h1v1h-1zM460 397h1v1h-1zM463 401h1v1h-1zM464 402h1v1h-1zM465 403h1v1h-1zM469 407h1v1h-1zM470 408h1v1h-1zM471 409h1v1h-1zM475 412h2v1h-2zM477 413h1v1h-1zM481 415h1v1h-1zM482 416h2v1h-2zM487 418h3v1h-3zM493 417h2v1h-2zM495 416h1v1h-1zM499 414h3v1h-3zM505 412h1v1h-1zM506 411h2v1h-2zM511 408h2v1h-2zM513 407h1v1h-1zM517 405h1v1h-1zM518 404h1v1h-1zM519 403h1v1h-1zM523 401h2v1h-2zM525 400h1v1h-1zM529 398h3v1h-3zM535 397h1v1h-1zM536 396h2v1h-2zM541 394h1v1h-1zM542 393h2v1h-2zM547 390h2v1h-2zM549 389h1v1h-1zM553 386h2v1h-2zM555 385h1v1h-1zM559 382h2v1h-2zM561 381h1v1h-1zM565 378h2v1h-2zM567 377h1v1h-1zM571 374h1v1h-1zM572 373h1v1h-1zM573 372h1v1h-1zM577 369h2v1h-2zM579 368h1v1h-1zM583 367h2v1h-2zM585 366h1v1h-1zM589 364h3v1h-3zM595 363h1v1h-1zM596 362h2v1h-2zM601 361h1v1h-1zM602 360h2v1h-2zM607 359h3v1h-3zM613 359h3v1h-3zM619 359h3v1h-3zM625 359h2v1h-2zM627 360h1v1h-1zM631 362h2v1h-2zM633 363h1v1h-1zM637 365h3v1h-3zM643 367h1v1h-1zM644 368h2v1h-2zM649 370h1v1h-1zM650 371h2v1h-2zM655 373h1v1h-1zM656 374h2v1h-2zM661 375h3v1h-3zM667 373h3v1h-3zM673 372h2v1h-2zM675 371h1v1h-1zM679 369h3v1h-3zM685 368h1v1h-1zM686 367h2v1h-2zM691 366h1v1h-1zM692 365h2v1h-2zM697 364h3v1h-3zM703 364h3v1h-3zM709 366h3v1h-3zM715 366h3v1h-3zM721 368h3v1h-3zM727 368h3v1h-3zM733 368h3v1h-3zM739 368h3v1h-3zM745 367h3v1h-3zM751 366h3v1h-3zM757 365h1v1h-1zM758 364h2v1h-2zM763 366h1v1h-1zM764 367h1v1h-1zM765 368h1v1h-1zM769 370h2v1h-2zM771 371h1v1h-1zM775 373h1v1h-1zM776 374h2v1h-2zM781 376h1v1h-1zM782 377h2v1h-2zM787 380h1v1h-1zM788 381h1v1h-1zM789 382h1v1h-1zM793 385h1v1h-1zM794 386h1v1h-1zM795 387h1v1h-1zM799 389h3v1h-3zM805 391h3v1h-3zM811 393h1v1h-1zM812 394h2v1h-2zM817 395h1v1h-1zM818 396h2v1h-2zM823 398h3v1h-3zM829 398h3v1h-3zM835 397h3v1h-3zM841 395h2v1h-2zM843 394h1v1h-1zM847 392h1v1h-1zM848 391h1v1h-1zM849 390h1v1h-1zM853 388h2v1h-2zM855 387h1v1h-1zM859 384h2v1h-2zM861 383h1v1h-1zM865 380h1v1h-1zM866 379h1v1h-1zM867 378h1v1h-1zM871 375h2v1h-2zM873 374h1v1h-1zM877 372h1v1h-1zM878 371h2v1h-2zM883 369h3v1h-3zM889 367h3v1h-3zM895 366h3v1h-3zM901 364h1v1h-1zM902 363h2v1h-2zM907 361h2v1h-2zM909 360h1v1h-1zM913 358h3v1h-3zM919 356h3v1h-3zM925 354h3v1h-3zM931 353h3v1h-3zM937 354h3v1h-3zM943 356h3v1h-3zM949 358h2v1h-2zM951 359h1v1h-1zM955 362h2v1h-2zM957 363h1v1h-1zM961 365h1v1h-1zM962 366h2v1h-2zM967 368h1v1h-1zM968 369h2v1h-2zM973 371h3v1h-3zM979 373h3v1h-3zM985 373h3v1h-3zM991 373h3v1h-3zM997 373h3v1h-3zM1003 374h3v1h-3zM1009 376h3v1h-3zM1015 378h3v1h-3zM1021 380h1v1h-1zM1022 381h2v1h-2zM1027 382h1v1h-1zM1028 383h2v1h-2zM1033 382h3v1h-3z"/>
</g>
<g clip-path="url(#cr)">
<g shape-rendering="crispEdges"><line x1="5" y1="465.5" x2="1307" y2="465.5" stroke="#c0c0c0" stroke-dasharray="3 3"/><line x1="5" y1="513.5" x2="1307" y2="513.5" stroke="#c0c0c0" stroke-dasharray="3 3"/></g>
<path fill="#1e90ff" shape-rendering="crispEdges" d="M4 486h1v1h-1zM5 487h2v1h-2zM7 488h2v1h-2zM9 486h1v2h-1zM10 484h1v2h-1zM11 482h1v2h-1zM12 480h1v2h-1zM13 478h1v2h-1zM14 477h1v1h-1zM15 475h1v2h-1zM16 474h5v1h-5zM20 475h1v1h-1zM21 476h1v2h-1zM22 478h1v3h-1zM23 481h1v2h-1zM24 483h1v2h-1zM25 485h1v1h-1zM26 486h1v1h-1zM27 487h1v1h-1zM28 488h2v1h-2zM30 489h3v1h-3zM32 488h1v1h-1zM33 485h1v3h-1zM34 481h1v4h-1zM35 478h1v3h-1zM36 476h1v2h-1zM37 474h1v2h-1zM38 472h1v2h-1zM39 470h1v2h-1zM40 468h1v2h-1zM41 469h2v1h-2zM43 470h2v1h-2zM45 471h1v2h-1zM46 473h1v2h-1zM47 475h1v2h-1zM48 477h1v2h-1zM49 477h2v1h-2zM51 476h6v1h-6zM57 475h2v1h-2zM59 474h3v1h-3zM62 475h3v1h-3zM64 476h1v1h-1zM65 477h1v3h-1zM66 480h1v4h-1zM67 484h1v3h-1zM68 487h1v2h-1zM69 489h1v2h-1zM70 491h1v1h-1zM71 492h1v2h-1zM72 494h1v1h-1zM73 492h1v2h-1zM74 490h1v2h-1zM75 488h1v2h-1zM76 486h1v2h-1zM77 487h2v1h-2zM79 488h2v1h-2zM81 486h1v2h-1zM82 485h1v1h-1zM83 483h1v2h-1zM84 482h2v1h-2zM86 481h3v1h-3zM89 480h1v1h-1zM90 479h2v1h-2zM92 478h1v1h-1zM93 477h1v1h-1zM94 476h1v1h-1zM95 475h1v1h-1zM96 474h5v1h-5zM101 475h2v1h-2zM103 476h2v1h-2zM105 475h2v1h-2zM107 474h2v1h-2zM109 473h2v1h-2zM111 472h2v1h-2zM113 470h1v2h-1zM114 469h1v1h-1zM115 467h1v2h-1zM116 466h1v1h-1zM117 465h2v1h-2zM119 464h6v1h-6zM125 465h2v1h-2zM127 466h2v1h-2zM129 465h2v1h-2zM131 464h2v1h-2zM133 463h1v1h-1zM134 462h1v1h-1zM135 461h1v1h-1zM136 460h1v1h-1zM137 461h1v2h-1zM138 463h1v1h-1zM139 464h1v2h-1zM140 466h1v1h-1zM141 465h1v1h-1zM142 464h1v1h-1zM143 463h1v1h-1zM144 462h2v1h-2zM146 463h3v1h-3zM149 464h1v1h-1zM150 465h1v1h-1zM151 466h1v1h-1zM152 467h1v3h-1zM153 470h1v5h-1zM154 475h1v4h-1zM155 479h1v5h-1zM156 484h1v3h-1zM157 486h4v1h-4zM161 487h2v1h-2zM163 488h2v1h-2zM165 489h1v2h-1zM166 491h1v2h-1zM167 493h1v2h-1zM168 495h1v1h-1zM169 494h1v1h-1zM170 493h2v1h-2zM172 492h1v1h-1zM173 493h1v2h-1zM174 495h1v1h-1zM175 496h1v2h-1zM176 498h1v1h-1zM177 499h1v2h-1zM178 501h1v2h-1zM179 503h1v2h-1zM180 505h1v2h-1zM181 504h1v2h-1zM182 502h1v2h-1zM183 500h1v2h-1zM184 498h1v2h-1zM185 495h1v3h-1zM186 491h1v4h-1zM187 488h1v3h-1zM188 486h1v2h-1zM189 485h1v1h-1zM190 483h1v2h-1zM191 482h1v1h-1zM192 481h1v1h-1zM193 482h1v1h-1zM194 483h2v1h-2zM196 484h5v1h-5zM201 483h2v1h-2zM203 482h2v1h-2zM205 483h2v1h-2zM207 484h2v1h-2zM209 483h1v1h-1zM210 482h1v1h-1zM211 481h1v1h-1zM212 480h1v1h-1zM213 481h1v2h-1zM214 483h1v2h-1zM215 485h1v2h-1zM216 487h1v2h-1zM217 487h1v1h-1zM218 486h1v1h-1zM219 485h1v1h-1zM220 484h1v1h-1zM221 485h2v1h-2zM223 486h6v1h-6zM229 487h1v1h-1zM230 488h1v1h-1zM231 489h1v1h-1zM232 490h1v1h-1zM233 489h2v1h-2zM235 488h2v1h-2zM237 489h1v1h-1zM238 490h2v1h-2zM240 491h1v2h-1zM241 493h1v2h-1zM242 495h1v2h-1zM243 497h1v2h-1zM244 499h1v2h-1zM245 499h2v1h-2zM247 498h2v1h-2zM248 499h1v2h-1zM249 501h1v5h-1zM250 506h1v4h-1zM251 510h1v5h-1zM252 515h1v3h-1zM253 513h1v3h-1zM254 511h1v2h-1zM255 508h1v3h-1zM256 506h1v2h-1zM257 504h1v2h-1zM258 503h1v1h-1zM259 501h1v2h-1zM260 500h1v1h-1zM261 499h1v1h-1zM262 497h1v2h-1zM263 496h1v1h-1zM264 495h1v1h-1zM265 493h1v2h-1zM266 491h1v2h-1zM267 489h1v2h-1zM268 488h1v1h-1zM269 489h2v1h-2zM271 490h2v1h-2zM273 489h2v1h-2zM275 488h10v1h-10zM284 487h1v1h-1zM285 484h1v3h-1zM286 481h1v3h-1zM287 478h1v3h-1zM288 476h1v2h-1zM289 476h1v1h-1zM290 475h3v1h-3zM293 474h1v1h-1zM294 473h2v1h-2zM296 472h1v2h-1zM297 474h1v2h-1zM298 476h1v2h-1zM299 478h1v2h-1zM300 480h1v2h-1zM301 480h1v1h-1zM302 479h2v1h-2zM304 478h1v1h-1zM305 479h1v2h-1zM306 481h1v2h-1zM307 483h1v2h-1zM308 485h1v2h-1zM309 485h2v1h-2zM311 484h6v1h-6zM316 483h1v1h-1zM317 481h1v2h-1zM318 478h1v3h-1zM319 476h1v2h-1zM320 474h1v2h-1zM321 473h1v1h-1zM322 472h2v1h-2zM324 471h2v1h-2zM326 472h3v1h-3zM329 473h1v1h-1zM330 474h2v1h-2zM332 475h1v1h-1zM333 474h2v1h-2zM335 473h3v1h-3zM338 472h4v1h-4zM342 473h3v1h-3zM345 472h1v1h-1zM346 471h2v1h-2zM348 470h1v1h-1zM349 471h1v1h-1zM350 472h1v2h-1zM351 474h1v1h-1zM352 475h1v1h-1zM353 476h1v2h-1zM354 478h1v1h-1zM355 479h1v2h-1zM356 481h1v1h-1zM357 482h2v1h-2zM359 483h2v1h-2zM361 484h1v2h-1zM362 486h1v2h-1zM363 488h1v2h-1zM364 490h1v2h-1zM365 491h1v1h-1zM366 492h3v1h-3zM368 491h1v1h-1zM369 487h1v4h-1zM370 484h1v3h-1zM371 480h1v4h-1zM372 478h1v2h-1zM373 480h1v3h-1zM374 483h1v4h-1zM375 487h1v3h-1zM376 490h1v2h-1zM377 490h1v1h-1zM378 489h2v1h-2zM380 488h1v2h-1zM381 490h1v2h-1zM382 492h1v3h-1zM383 495h1v2h-1zM384 497h1v2h-1zM385 496h1v2h-1zM386 495h1v1h-1zM387 493h1v2h-1zM388 492h1v1h-1zM389 493h1v1h-1zM390 494h1v1h-1zM391 495h1v1h-1zM392 496h1v1h-1zM393 495h1v1h-1zM394 494h1v1h-1zM395 493h1v1h-1zM396 492h1v1h-1zM397 493h1v1h-1zM398 494h1v1h-1zM399 495h1v1h-1zM400 496h1v1h-1zM401 495h1v1h-1zM402 494h1v1h-1zM403 493h1v1h-1zM404 492h1v1h-1zM405 493h2v1h-2zM407 494h2v1h-2zM409 493h2v1h-2zM411 492h6v1h-6zM417 490h1v2h-1zM418 489h1v1h-1zM419 487h1v2h-1zM420 486h1v2h-1zM421 488h1v4h-1zM422 492h1v4h-1zM423 496h1v4h-1zM424 500h1v3h-1zM425 501h2v1h-2zM427 500h2v1h-2zM429 501h1v2h-1zM430 503h1v1h-1zM431 504h1v2h-1zM432 506h9v1h-9zM441 507h1v1h-1zM442 508h1v2h-1zM443 510h1v1h-1zM444 511h1v1h-1zM445 512h2v1h-2zM447 513h2v1h-2zM449 514h1v1h-1zM450 515h2v1h-2zM452 516h2v1h-2zM454 517h3v1h-3zM457 518h2v1h-2zM459 519h6v1h-6zM465 518h2v1h-2zM467 517h2v1h-2zM469 516h2v1h-2zM471 515h2v1h-2zM473 514h2v1h-2zM475 513h2v1h-2zM477 511h1v2h-1zM478 509h1v2h-1zM479 507h1v2h-1zM480 506h1v1h-1zM481 507h2v1h-2zM483 508h3v1h-3zM486 509h3v1h-3zM489 507h1v2h-1zM490 505h1v2h-1zM491 503h1v2h-1zM492 502h9v1h-9zM501 503h1v1h-1zM502 504h2v1h-2zM504 505h2v1h-2zM506 506h3v1h-3zM509 507h2v1h-2zM511 508h2v1h-2zM513 507h1v1h-1zM514 506h1v1h-1zM515 505h1v1h-1zM516 504h1v1h-1zM517 503h1v1h-1zM518 502h1v1h-1zM519 501h1v1h-1zM520 500h5v1h-5zM525 501h1v1h-1zM526 502h1v1h-1zM527 503h1v1h-1zM528 504h5v1h-5zM533 503h1v1h-1zM534 502h2v1h-2zM536 500h1v2h-1zM537 496h1v4h-1zM538 492h1v4h-1zM539 488h1v4h-1zM540 486h1v2h-1zM541 485h2v1h-2zM543 484h7v1h-7zM550 483h3v1h-3zM553 482h1v1h-1zM554 480h1v2h-1zM555 479h1v1h-1zM556 478h1v2h-1zM557 480h1v2h-1zM558 482h1v2h-1zM559 484h1v2h-1zM560 486h1v2h-1zM561 488h2v1h-2zM563 489h2v1h-2zM564 488h1v1h-1zM565 485h1v3h-1zM566 483h1v2h-1zM567 480h1v3h-1zM568 478h1v2h-1zM569 478h8v1h-8zM577 479h1v1h-1zM578 480h2v1h-2zM580 481h2v1h-2zM582 480h3v1h-3zM585 479h1v1h-1zM586 478h1v1h-1zM587 477h1v1h-1zM588 476h2v1h-2zM590 477h3v1h-3zM593 478h1v1h-1zM594 479h2v1h-2zM596 480h1v1h-1zM597 481h1v1h-1zM598 482h2v1h-2zM600 483h1v1h-1zM601 482h1v1h-1zM602 481h2v1h-2zM604 480h1v1h-1zM605 481h1v1h-1zM606 482h2v1h-2zM608 483h1v1h-1zM609 484h1v1h-1zM610 485h2v1h-2zM612 486h1v1h-1zM613 485h1v1h-1zM614 483h1v2h-1zM615 482h1v1h-1zM616 481h1v1h-1zM617 479h1v2h-1zM618 478h1v1h-1zM619 476h1v2h-1zM620 475h1v5h-1zM621 480h1v9h-1zM622 489h1v8h-1zM623 497h1v9h-1zM624 506h1v5h-1zM625 510h8v1h-8zM632 509h1v1h-1zM633 505h1v4h-1zM634 501h1v4h-1zM635 497h1v4h-1zM636 494h1v3h-1zM637 494h8v1h-8zM645 493h2v1h-2zM647 492h2v1h-2zM649 493h1v1h-1zM650 494h1v1h-1zM651 495h1v1h-1zM652 496h1v1h-1zM653 494h1v2h-1zM654 493h1v1h-1zM655 491h1v2h-1zM656 490h2v1h-2zM658 489h3v1h-3zM660 488h1v1h-1zM661 486h1v2h-1zM662 484h1v2h-1zM663 482h1v2h-1zM664 480h1v2h-1zM665 480h4v1h-4zM669 479h2v1h-2zM671 478h2v1h-2zM672 479h1v1h-1zM673 480h1v2h-1zM674 482h1v3h-1zM675 485h1v2h-1zM676 487h1v2h-1zM677 488h4v1h-4zM681 486h1v2h-1zM682 485h1v1h-1zM683 483h1v2h-1zM684 482h1v1h-1zM685 483h1v2h-1zM686 485h1v2h-1zM687 487h1v2h-1zM688 489h1v2h-1zM689 489h1v1h-1zM690 488h1v1h-1zM691 487h1v1h-1zM692 486h1v1h-1zM693 485h2v1h-2zM695 484h2v1h-2zM696 485h1v1h-1zM697 486h1v2h-1zM698 488h1v3h-1zM699 491h1v2h-1zM700 493h1v2h-1zM701 495h2v1h-2zM703 496h2v1h-2zM705 497h1v2h-1zM706 499h1v1h-1zM707 500h1v2h-1zM708 502h1v1h-1zM709 500h1v2h-1zM710 499h1v1h-1zM711 497h1v2h-1zM712 496h1v1h-1zM713 494h1v2h-1zM714 493h1v1h-1zM715 491h1v2h-1zM716 490h1v1h-1zM717 489h2v1h-2zM719 488h2v1h-2zM721 486h1v2h-1zM722 485h1v1h-1zM723 483h1v2h-1zM724 482h5v1h-5zM729 483h1v2h-1zM730 485h1v1h-1zM731 486h1v2h-1zM732 488h1v1h-1zM733 486h1v2h-1zM734 484h1v2h-1zM735 482h1v2h-1zM736 480h1v2h-1zM737 481h1v2h-1zM738 483h1v2h-1zM739 485h1v2h-1zM740 487h1v2h-1zM741 488h1v1h-1zM742 489h3v1h-3zM745 490h1v1h-1zM746 491h1v2h-1zM747 493h1v1h-1zM748 494h1v1h-1zM749 493h2v1h-2zM751 492h2v1h-2zM753 491h1v1h-1zM754 490h1v1h-1zM755 489h1v1h-1zM756 488h1v3h-1zM757 491h1v6h-1zM758 497h1v5h-1zM759 502h1v6h-1zM760 508h1v3h-1zM761 509h1v1h-1zM762 507h1v2h-1zM763 506h1v1h-1zM764 505h1v1h-1zM765 504h1v1h-1zM766 502h1v2h-1zM767 501h1v1h-1zM768 500h1v1h-1zM769 501h2v1h-2zM771 502h6v1h-6zM777 501h1v1h-1zM778 500h1v1h-1zM779 499h1v1h-1zM780 498h1v1h-1zM781 499h1v1h-1zM782 500h1v1h-1zM783 501h1v1h-1zM784 502h2v1h-2zM786 503h3v1h-3zM789 504h1v2h-1zM790 506h1v1h-1zM791 507h1v2h-1zM792 509h1v1h-1zM793 510h1v1h-1zM794 511h1v1h-1zM795 512h1v1h-1zM796 513h1v1h-1zM797 512h1v1h-1zM798 510h1v2h-1zM799 509h1v1h-1zM800 508h1v1h-1zM801 507h1v1h-1zM802 506h1v1h-1zM803 505h1v1h-1zM804 504h1v1h-1zM805 505h2v1h-2zM807 506h2v1h-2zM809 505h2v1h-2zM811 504h2v1h-2zM813 503h2v1h-2zM815 502h2v1h-2zM817 503h2v1h-2zM819 504h6v1h-6zM825 505h1v1h-1zM826 506h1v1h-1zM827 507h1v1h-1zM828 507h1v2h-1zM829 504h1v3h-1zM830 500h1v4h-1zM831 497h1v3h-1zM832 495h1v2h-1zM833 493h1v2h-1zM834 492h1v1h-1zM835 490h1v2h-1zM836 489h1v1h-1zM837 488h1v1h-1zM838 487h2v1h-2zM840 486h1v1h-1zM841 487h2v1h-2zM843 488h2v1h-2zM845 487h2v1h-2zM847 486h2v1h-2zM849 485h1v1h-1zM850 484h1v1h-1zM851 483h1v1h-1zM852 482h1v1h-1zM853 483h1v1h-1zM854 484h1v1h-1zM855 485h1v1h-1zM856 486h1v1h-1zM857 487h1v1h-1zM858 488h2v1h-2zM860 489h1v1h-1zM861 488h2v1h-2zM863 487h2v1h-2zM865 486h1v1h-1zM866 485h2v1h-2zM868 484h5v1h-5zM873 485h1v2h-1zM874 487h1v2h-1zM875 489h1v2h-1zM876 491h1v2h-1zM877 490h1v2h-1zM878 489h1v1h-1zM879 487h1v2h-1zM880 486h9v1h-9zM889 485h2v1h-2zM891 484h2v1h-2zM893 483h1v1h-1zM894 482h2v1h-2zM896 481h1v1h-1zM897 479h1v2h-1zM898 477h1v2h-1zM899 475h1v2h-1zM900 474h1v1h-1zM901 473h1v1h-1zM902 472h1v1h-1zM903 471h1v1h-1zM904 470h1v1h-1zM905 471h1v2h-1zM906 473h1v1h-1zM907 474h1v2h-1zM908 476h1v1h-1zM909 475h1v1h-1zM910 474h1v1h-1zM911 473h1v1h-1zM912 472h2v1h-2zM914 473h4v1h-4zM918 474h3v1h-3zM920 475h1v1h-1zM921 476h1v3h-1zM922 479h1v3h-1zM923 482h1v3h-1zM924 485h1v3h-1zM925 488h1v3h-1zM926 491h1v3h-1zM927 494h1v3h-1zM928 497h1v2h-1zM929 496h1v2h-1zM930 494h1v2h-1zM931 492h1v2h-1zM932 490h1v2h-1zM933 491h1v2h-1zM934 493h1v1h-1zM935 494h1v2h-1zM936 496h5v1h-5zM941 495h1v1h-1zM942 494h2v1h-2zM944 493h1v1h-1zM945 494h1v2h-1zM946 496h1v2h-1zM947 498h1v2h-1zM948 500h1v1h-1zM949 499h1v1h-1zM950 497h1v2h-1zM951 496h1v1h-1zM952 495h2v1h-2zM954 494h7v1h-7zM961 495h1v1h-1zM962 496h1v1h-1zM963 497h1v1h-1zM964 498h1v1h-1zM965 497h1v1h-1zM966 496h1v1h-1zM967 495h1v1h-1zM968 494h1v1h-1zM969 493h2v1h-2zM971 492h2v1h-2zM973 493h1v2h-1zM974 495h1v2h-1zM975 497h1v2h-1zM976 499h1v1h-1zM977 497h1v2h-1zM978 495h1v2h-1zM979 493h1v2h-1zM980 492h1v1h-1zM981 491h1v1h-1zM982 489h1v2h-1zM983 488h1v1h-1zM984 487h1v1h-1zM985 486h1v1h-1zM986 485h2v1h-2zM988 484h1v1h-1zM989 485h1v2h-1zM990 487h1v2h-1zM991 489h1v2h-1zM992 491h1v3h-1zM993 494h1v4h-1zM994 498h1v4h-1zM995 502h1v4h-1zM996 506h1v3h-1zM997 504h1v3h-1zM998 500h1v4h-1zM999 497h1v3h-1zM1000 495h1v2h-1zM1001 493h1v2h-1zM1002 491h1v2h-1zM1003 489h1v2h-1zM1004 488h1v2h-1zM1005 490h1v3h-1zM1006 493h1v4h-1zM1007 497h1v3h-1zM1008 500h1v2h-1zM1009 502h2v1h-2zM1011 503h3v1h-3zM1014 502h3v1h-3zM1017 500h1v2h-1zM1018 498h1v2h-1zM1019 496h1v2h-1zM1020 494h1v2h-1zM1021 493h2v1h-2zM1023 492h6v1h-6zM1028 491h1v1h-1zM1029 489h1v2h-1zM1030 486h1v3h-1zM1031 484h1v2h-1zM1032 482h1v2h-1zM1033 483h2v1h-2zM1035 484h2v1h-2z"/>
</g>
<g shape-rendering="crispEdges" fill="none" stroke="#000" stroke-width="1">
<rect x="3.5" y="29.5" width="1304" height="298"/>
<rect x="3.5" y="329.5" width="1304" height="97"/>
<rect x="3.5" y="428.5" width="1304" height="122"/>
</g>
<g shape-rendering="crispEdges" fill="#000">
<rect x="1308" y="60" width="2" height="1"/>
<rect x="1308" y="93" width="2" height="1"/>
<rect x="1308" y="126" width="2" height="1"/>
<rect x="1308" y="159" width="2" height="1"/>
<rect x="1308" y="192" width="2" height="1"/>
<rect x="1308" y="228" width="2" height="1"/>
<rect x="1308" y="258" width="2" height="1"/>
<rect x="1308" y="291" width="2" height="1"/>
<rect x="1308" y="324" width="2" height="1"/>
<rect x="1308" y="367" width="2" height="1"/>
<rect x="1308" y="425" width="2" height="1"/>
<rect x="1308" y="430" width="2" height="1"/>
<rect x="1308" y="465" width="2" height="1"/>
<rect x="1308" y="513" width="2" height="1"/>
<rect x="1308" y="543" width="2" height="1"/>
<rect x="4" y="551" width="1" height="3"/>
<rect x="68" y="551" width="1" height="3"/>
<rect x="132" y="551" width="1" height="3"/>
<rect x="196" y="551" width="1" height="3"/>
<rect x="260" y="551" width="1" height="3"/>
<rect x="324" y="551" width="1" height="3"/>
<rect x="388" y="551" width="1" height="3"/>
<rect x="452" y="551" width="1" height="3"/>
<rect x="516" y="551" width="1" height="3"/>
<rect x="580" y="551" width="1" height="3"/>
<rect x="644" y="551" width="1" height="3"/>
<rect x="708" y="551" width="1" height="3"/>
<rect x="772" y="551" width="1" height="3"/>
<rect x="836" y="551" width="1" height="3"/>
<rect x="900" y="551" width="1" height="3"/>
<rect x="964" y="551" width="1" height="3"/>
<rect x="1028" y="551" width="1" height="3"/>
<rect x="1309" y="224" width="41" height="10"/>
</g>
<g font-family="'Liberation Sans', sans-serif">
<text x="1313.4" y="63.8" font-size="8.8" fill="#000" text-anchor="start" >1.01110</text>
<text x="1313.4" y="96.8" font-size="8.8" fill="#000" text-anchor="start" >1.00770</text>
<text x="1313.4" y="129.8" font-size="8.8" fill="#000" text-anchor="start" >1.00420</text>
<text x="1313.4" y="162.8" font-size="8.8" fill="#000" text-anchor="start" >1.00070</text>
<text x="1313.4" y="195.8" font-size="8.8" fill="#000" text-anchor="start" >0.99730</text>
<text x="1313.4" y="261.8" font-size="8.8" fill="#000" text-anchor="start" >0.99040</text>
<text x="1313.4" y="294.8" font-size="8.8" fill="#000" text-anchor="start" >0.98690</text>
<text x="1313.4" y="327.8" font-size="8.8" fill="#000" text-anchor="start" >0.98350</text>
<text x="1313.4" y="232" font-size="8.8" fill="#fff" text-anchor="start" >0.99352</text>
<text x="1311.4" y="340.2" font-size="8.8" fill="#000" text-anchor="start" >0.002492</text>
<text x="1311.4" y="370.8" font-size="8.8" fill="#000" text-anchor="start" >0.00</text>
<text x="1311.4" y="422.9" font-size="8.8" fill="#000" text-anchor="start" >-0.003913</text>
<text x="1311.4" y="438.6" font-size="8.8" fill="#000" text-anchor="start" >100</text>
<text x="1311.4" y="468.8" font-size="8.8" fill="#000" text-anchor="start" >70</text>
<text x="1311.4" y="516.8" font-size="8.8" fill="#000" text-anchor="start" >30</text>
<text x="1311.4" y="546.8" font-size="8.8" fill="#000" text-anchor="start" >0</text>
<text x="19" y="41" font-size="9.38" fill="#000" text-anchor="start" textLength="54.6" lengthAdjust="spacingAndGlyphs">USDCHF,H4</text>
<text x="79.6" y="41" font-size="9.38" fill="#000" text-anchor="start" textLength="141.6" lengthAdjust="spacingAndGlyphs">0.99372 0.99406 0.99289 0.99352</text>
<text x="8" y="341.8" font-size="9.37" fill="#000" text-anchor="start" >MACD(12,26,9) -0.000340 -0.000964</text>
<text x="8" y="440.8" font-size="9.37" fill="#000" text-anchor="start" >RSI(14) 53.7349</text>
<text x="3" y="562.8" font-size="9.5" fill="#000" text-anchor="start" >24 Oct 2018</text>
<text x="67" y="562.8" font-size="9.5" fill="#000" text-anchor="start" >26 Oct 22:00</text>
<text x="131" y="562.8" font-size="9.5" fill="#000" text-anchor="start" >31 Oct 14:00</text>
<text x="195" y="562.8" font-size="9.5" fill="#000" text-anchor="start" >5 Nov 07:00</text>
<text x="259" y="562.8" font-size="9.5" fill="#000" text-anchor="start" >7 Nov 23:00</text>
<text x="323" y="562.8" font-size="9.5" fill="#000" text-anchor="start" >12 Nov 15:00</text>
<text x="387" y="562.8" font-size="9.5" fill="#000" text-anchor="start" >15 Nov 04:00</text>
<text x="451" y="562.8" font-size="9.5" fill="#000" text-anchor="start" >19 Nov 23:00</text>
<text x="515" y="562.8" font-size="9.5" fill="#000" text-anchor="start" >22 Nov 15:00</text>
<text x="579" y="562.8" font-size="9.5" fill="#000" text-anchor="start" >27 Nov 04:00</text>
<text x="643" y="562.8" font-size="9.5" fill="#000" text-anchor="start" >29 Nov 23:00</text>
<text x="707" y="562.8" font-size="9.5" fill="#000" text-anchor="start" >4 Dec 15:00</text>
<text x="771" y="562.8" font-size="9.5" fill="#000" text-anchor="start" >7 Dec 04:00</text>
<text x="835" y="562.8" font-size="9.5" fill="#000" text-anchor="start" >11 Dec 23:00</text>
<text x="899" y="562.8" font-size="9.5" fill="#000" text-anchor="start" >14 Dec 15:00</text>
<text x="963" y="562.8" font-size="9.5" fill="#000" text-anchor="start" >19 Dec 04:00</text>
<text x="1027" y="562.8" font-size="9.5" fill="#000" text-anchor="start" >21 Dec 23:00</text>
</g>
<path d="M7 40L10.5 36L14 40z" fill="#000"/>
</svg>
<div class="abs" style="left:5px;top:47px;width:223px;height:68px;background:#fff"></div>
<div class="abs" id="spinbg"></div>
<div class="abs blue" id="selltab"></div>
<div class="abs blue" id="sellbox"></div>
<div class="abs blue" id="buytab"></div>
<div class="abs blue" id="buybox"></div>
<div class="abs" style="left:11px;top:73px;width:44px;height:1px;background:#8585ea"></div>
<div class="abs" style="left:178px;top:73px;width:44px;height:1px;background:#8585ea"></div>
<div class="abs" id="spin"></div>
<div class="sbtn" style="left:62px;width:20px"></div>
<div class="sbtn" style="left:151px;width:20px"></div>
<svg class="abs" style="left:59px;top:49px" width="115" height="24" viewBox="0 0 115 24">
  <path d="M10.2 9.6h5l-2.5 2.8z" fill="#5a66b8"/>
  <path d="M99.2 12.4h5l-2.5-2.8z" fill="#5a66b8"/>
  <rect x="23" y="1" width="1" height="20" fill="#b4b4b4"/><rect x="91" y="1" width="1" height="20" fill="#b4b4b4"/>
</svg>
<span class="pt" style="left:19.5px;top:55px;font-size:11px;line-height:13px;letter-spacing:-0.3px">SELL</span>
<span class="pt" style="left:187.5px;top:55px;font-size:11px;line-height:13px">BUY</span>
<span class="abs" style="left:123px;top:53px;font-size:12px;line-height:14px;color:#000;white-space:nowrap">0.50</span>
<span class="pt" style="left:27px;top:93px;font-size:11px;line-height:13px;font-weight:bold;letter-spacing:0.8px">0.99</span>
<span class="pt" style="left:137px;top:93px;font-size:11px;line-height:13px;font-weight:bold;letter-spacing:0.8px">0.99</span>
<svg class="abs" style="left:0;top:49px" width="230" height="64" viewBox="0 49 230 64">
  <defs><linearGradient id="pg" gradientUnits="userSpaceOnUse" x1="0" y1="49" x2="0" y2="113">
    <stop offset="0" stop-color="#5555f2"/><stop offset="0.35" stop-color="#3a3ae0"/><stop offset="0.65" stop-color="#1414c8"/><stop offset="1" stop-color="#0000a8"/></linearGradient></defs>
  <g font-family="'Liberation Sans', sans-serif" font-size="33.6" fill="#fff" stroke="url(#pg)" stroke-width="0.9" letter-spacing="-1.7">
    <text x="54.1" y="103.5">35</text><text x="165.1" y="103.5">37</text>
  </g>
</svg>
<span class="pt" style="left:94.5px;top:79px;font-size:10px;line-height:12px;font-weight:bold">2</span>
<span class="pt" style="left:205.5px;top:79px;font-size:10px;line-height:12px;font-weight:bold">5</span>

<div class="abs" id="tabline0"></div>
<div class="abs" id="tabbar"></div>
<div class="abs" id="tabline"></div>
<div class="abs" id="tabl"></div>
<div class="abs" id="acttab"></div>
<div class="abs" id="botline"></div><div class="abs" id="botline2"></div><div class="abs" id="botline3"></div>
<span class="tab" style="left:16.8px">EURUSD,H4</span><div class="tsep" style="left:97px"></div>
<span class="tab" style="left:107.7px">AUDUSD,Daily</span>
<span class="tab" style="left:211px;color:#000">USDCHF,H4</span>
<span class="tab" style="left:299.8px">USDCAD,H1</span><div class="tsep" style="left:381px"></div>
<span class="tab" style="left:390.6px">USDCNH,H4</span><div class="tsep" style="left:473px"></div>
<span class="tab" style="left:483.8px">USDJPY,M15</span><div class="tsep" style="left:569px"></div>
<span class="tab" style="left:579.3px">XAUUSD,H1</span><div class="tsep" style="left:661px"></div>
<span class="tab" style="left:671.9px">GBPUSD,Weekly</span><div class="tsep" style="left:778px"></div>
<span class="tab" style="left:787.4px">SP500,H1</span><div class="tsep" style="left:853px"></div>
<svg class="abs" style="left:1310px;top:576px" width="40" height="16" viewBox="0 0 40 16">
  <path d="M10 7.5l4-3.5v7z" fill="#8c8c8c"/><path d="M31 7.5l-4-3.5v7z" fill="#8c8c8c"/>
</svg>
</body></html>
